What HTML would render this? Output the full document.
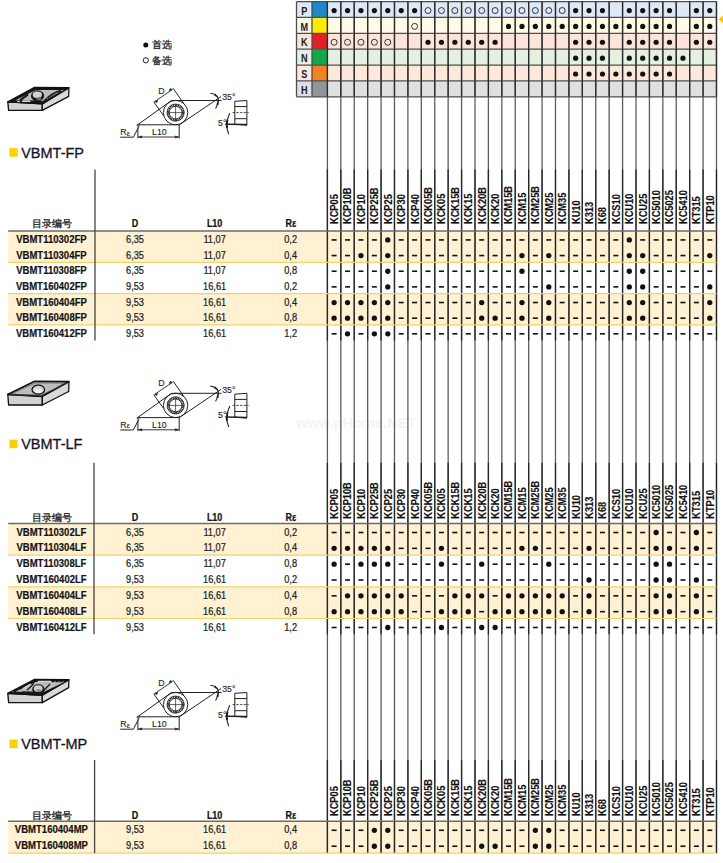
<!DOCTYPE html>
<html><head><meta charset="utf-8"><style>
html,body{margin:0;padding:0;background:#fff;width:723px;height:863px;overflow:hidden}
svg{position:absolute;left:0;top:0;font-family:"Liberation Sans", sans-serif}
.gl{font-weight:bold;font-size:10.6px;text-anchor:middle;fill:#1a1a1a}
.gline{stroke:#4e4e4e;stroke-width:1.3}
.vline{stroke-width:1.3}
.cjk{font-size:10px;fill:#1e1e1e;stroke:#1e1e1e;stroke-width:0.3px}
.hb{font-weight:bold;font-size:10.2px;fill:#141414;stroke:#141414;stroke-width:0.25px}
.rl{font-weight:bold;font-size:10.4px;fill:#111;stroke:#111;stroke-width:0.15px}
.pn{font-weight:bold;font-size:10.9px;fill:#141414;stroke:#141414;stroke-width:0.2px}
.num{font-size:10.5px;fill:#1e1e1e;stroke:#1e1e1e;stroke-width:0.25px}
.dt{font-size:8.8px;fill:#222;stroke:#222;stroke-width:0.1px}
.title{font-size:14.5px;fill:#15152a;stroke:#15152a;stroke-width:0.3px}
</style></head><body>
<svg width="723" height="863" viewBox="0 0 723 863">
<text x="296" y="427.8" font-size="14.6" font-weight="bold" fill="#eff5f9">www.pHome.NET</text>
<rect x="8.2" y="231" width="708.29" height="31.3" fill="#fff1d2"/>
<rect x="8.2" y="293.6" width="708.29" height="31.3" fill="#fff1d2"/>
<rect x="8.2" y="523.5" width="708.29" height="31.66" fill="#fff1d2"/>
<rect x="8.2" y="586.82" width="708.29" height="31.66" fill="#fff1d2"/>
<rect x="8.2" y="821.2" width="708.29" height="31.9" fill="#fff1d2"/>
<rect x="296.5" y="1.6" width="419.99" height="15.87" fill="#dde9f6"/>
<rect x="312" y="1.6" width="15.4" height="15.87" fill="#1b87cc"/>
<text transform="translate(304.25,14.63) scale(0.86,1)" class="gl">P</text>
<circle cx="334.11" cy="10.54" r="2.6" fill="#111"/>
<circle cx="347.53" cy="10.54" r="2.6" fill="#111"/>
<circle cx="360.94" cy="10.54" r="2.6" fill="#111"/>
<circle cx="374.36" cy="10.54" r="2.6" fill="#111"/>
<circle cx="387.78" cy="10.54" r="2.6" fill="#111"/>
<circle cx="401.19" cy="10.54" r="2.6" fill="#111"/>
<circle cx="414.61" cy="10.54" r="2.6" fill="#111"/>
<circle cx="428.03" cy="10.54" r="3.0" fill="none" stroke="#222" stroke-width="0.9"/>
<circle cx="441.44" cy="10.54" r="3.0" fill="none" stroke="#222" stroke-width="0.9"/>
<circle cx="454.86" cy="10.54" r="3.0" fill="none" stroke="#222" stroke-width="0.9"/>
<circle cx="468.28" cy="10.54" r="3.0" fill="none" stroke="#222" stroke-width="0.9"/>
<circle cx="481.7" cy="10.54" r="3.0" fill="none" stroke="#222" stroke-width="0.9"/>
<circle cx="495.11" cy="10.54" r="3.0" fill="none" stroke="#222" stroke-width="0.9"/>
<circle cx="508.53" cy="10.54" r="3.0" fill="none" stroke="#222" stroke-width="0.9"/>
<circle cx="521.95" cy="10.54" r="3.0" fill="none" stroke="#222" stroke-width="0.9"/>
<circle cx="535.36" cy="10.54" r="3.0" fill="none" stroke="#222" stroke-width="0.9"/>
<circle cx="548.78" cy="10.54" r="3.0" fill="none" stroke="#222" stroke-width="0.9"/>
<circle cx="562.2" cy="10.54" r="3.0" fill="none" stroke="#222" stroke-width="0.9"/>
<circle cx="575.61" cy="10.54" r="2.6" fill="#111"/>
<circle cx="589.03" cy="10.54" r="2.6" fill="#111"/>
<circle cx="602.45" cy="10.54" r="2.6" fill="#111"/>
<circle cx="629.28" cy="10.54" r="2.6" fill="#111"/>
<circle cx="642.7" cy="10.54" r="2.6" fill="#111"/>
<circle cx="656.12" cy="10.54" r="2.6" fill="#111"/>
<circle cx="669.53" cy="10.54" r="2.6" fill="#111"/>
<circle cx="696.37" cy="10.54" r="2.6" fill="#111"/>
<circle cx="709.78" cy="10.54" r="2.6" fill="#111"/>
<rect x="296.5" y="17.47" width="419.99" height="15.87" fill="#fefbe6"/>
<rect x="312" y="17.47" width="15.4" height="15.87" fill="#ffea00"/>
<text transform="translate(304.25,30.5) scale(0.86,1)" class="gl">M</text>
<circle cx="414.61" cy="26.4" r="3.0" fill="none" stroke="#222" stroke-width="0.9"/>
<circle cx="508.53" cy="26.4" r="2.6" fill="#111"/>
<circle cx="521.95" cy="26.4" r="2.6" fill="#111"/>
<circle cx="535.36" cy="26.4" r="2.6" fill="#111"/>
<circle cx="548.78" cy="26.4" r="2.6" fill="#111"/>
<circle cx="562.2" cy="26.4" r="2.6" fill="#111"/>
<circle cx="575.61" cy="26.4" r="2.6" fill="#111"/>
<circle cx="589.03" cy="26.4" r="2.6" fill="#111"/>
<circle cx="602.45" cy="26.4" r="2.6" fill="#111"/>
<circle cx="615.87" cy="26.4" r="2.6" fill="#111"/>
<circle cx="629.28" cy="26.4" r="2.6" fill="#111"/>
<circle cx="642.7" cy="26.4" r="2.6" fill="#111"/>
<circle cx="656.12" cy="26.4" r="2.6" fill="#111"/>
<circle cx="669.53" cy="26.4" r="2.6" fill="#111"/>
<circle cx="696.37" cy="26.4" r="2.6" fill="#111"/>
<circle cx="709.78" cy="26.4" r="2.6" fill="#111"/>
<rect x="296.5" y="33.34" width="419.99" height="15.87" fill="#fce4dc"/>
<rect x="312" y="33.34" width="15.4" height="15.87" fill="#e31e26"/>
<text transform="translate(304.25,46.38) scale(0.86,1)" class="gl">K</text>
<circle cx="334.11" cy="42.27" r="3.0" fill="none" stroke="#222" stroke-width="0.9"/>
<circle cx="347.53" cy="42.27" r="3.0" fill="none" stroke="#222" stroke-width="0.9"/>
<circle cx="360.94" cy="42.27" r="3.0" fill="none" stroke="#222" stroke-width="0.9"/>
<circle cx="374.36" cy="42.27" r="3.0" fill="none" stroke="#222" stroke-width="0.9"/>
<circle cx="387.78" cy="42.27" r="3.0" fill="none" stroke="#222" stroke-width="0.9"/>
<circle cx="428.03" cy="42.27" r="2.6" fill="#111"/>
<circle cx="441.44" cy="42.27" r="2.6" fill="#111"/>
<circle cx="454.86" cy="42.27" r="2.6" fill="#111"/>
<circle cx="468.28" cy="42.27" r="2.6" fill="#111"/>
<circle cx="481.7" cy="42.27" r="2.6" fill="#111"/>
<circle cx="495.11" cy="42.27" r="2.6" fill="#111"/>
<circle cx="575.61" cy="42.27" r="2.6" fill="#111"/>
<circle cx="589.03" cy="42.27" r="2.6" fill="#111"/>
<circle cx="602.45" cy="42.27" r="2.6" fill="#111"/>
<circle cx="629.28" cy="42.27" r="2.6" fill="#111"/>
<circle cx="642.7" cy="42.27" r="2.6" fill="#111"/>
<circle cx="656.12" cy="42.27" r="2.6" fill="#111"/>
<circle cx="669.53" cy="42.27" r="2.6" fill="#111"/>
<circle cx="696.37" cy="42.27" r="2.6" fill="#111"/>
<circle cx="709.78" cy="42.27" r="2.6" fill="#111"/>
<rect x="296.5" y="49.21" width="419.99" height="15.87" fill="#e4f0e0"/>
<rect x="312" y="49.21" width="15.4" height="15.87" fill="#13a64a"/>
<text transform="translate(304.25,62.25) scale(0.86,1)" class="gl">N</text>
<circle cx="575.61" cy="58.15" r="2.6" fill="#111"/>
<circle cx="589.03" cy="58.15" r="2.6" fill="#111"/>
<circle cx="602.45" cy="58.15" r="2.6" fill="#111"/>
<circle cx="629.28" cy="58.15" r="2.6" fill="#111"/>
<circle cx="642.7" cy="58.15" r="2.6" fill="#111"/>
<circle cx="656.12" cy="58.15" r="2.6" fill="#111"/>
<circle cx="669.53" cy="58.15" r="2.6" fill="#111"/>
<circle cx="682.95" cy="58.15" r="2.6" fill="#111"/>
<rect x="296.5" y="65.08" width="419.99" height="15.87" fill="#fde9dc"/>
<rect x="312" y="65.08" width="15.4" height="15.87" fill="#f28220"/>
<text transform="translate(304.25,78.11) scale(0.86,1)" class="gl">S</text>
<circle cx="575.61" cy="74.02" r="2.6" fill="#111"/>
<circle cx="589.03" cy="74.02" r="2.6" fill="#111"/>
<circle cx="602.45" cy="74.02" r="2.6" fill="#111"/>
<circle cx="615.87" cy="74.02" r="2.6" fill="#111"/>
<circle cx="629.28" cy="74.02" r="2.6" fill="#111"/>
<circle cx="642.7" cy="74.02" r="2.6" fill="#111"/>
<circle cx="656.12" cy="74.02" r="2.6" fill="#111"/>
<circle cx="669.53" cy="74.02" r="2.6" fill="#111"/>
<rect x="296.5" y="80.95" width="419.99" height="15.87" fill="#dfe0e2"/>
<rect x="312" y="80.95" width="15.4" height="15.87" fill="#929497"/>
<text transform="translate(304.25,93.98) scale(0.86,1)" class="gl">H</text>
<line x1="296.5" y1="1.6" x2="716.49" y2="1.6" class="gline"/>
<line x1="296.5" y1="17.47" x2="716.49" y2="17.47" class="gline"/>
<line x1="296.5" y1="33.34" x2="716.49" y2="33.34" class="gline"/>
<line x1="296.5" y1="49.21" x2="716.49" y2="49.21" class="gline"/>
<line x1="296.5" y1="65.08" x2="716.49" y2="65.08" class="gline"/>
<line x1="296.5" y1="80.95" x2="716.49" y2="80.95" class="gline"/>
<line x1="296.5" y1="96.82" x2="716.49" y2="96.82" class="gline"/>
<line x1="296.5" y1="1.6" x2="296.5" y2="96.82" class="gline"/>
<line x1="312" y1="1.6" x2="312" y2="96.82" class="gline"/>
<line x1="327.4" y1="1.6" x2="327.4" y2="853.3" class="vline" stroke="#5e5e5e"/>
<line x1="327.4" y1="1.6" x2="327.4" y2="96.82" stroke="#2a2a2a" stroke-width="1.3"/>
<line x1="327.4" y1="169.4" x2="327.4" y2="340.6" stroke="#262626" stroke-width="1.3"/>
<line x1="327.4" y1="462.8" x2="327.4" y2="634.3" stroke="#262626" stroke-width="1.3"/>
<line x1="327.4" y1="760" x2="327.4" y2="853.3" stroke="#262626" stroke-width="1.3"/>
<line x1="340.82" y1="1.6" x2="340.82" y2="853.3" class="vline" stroke="#5e5e5e"/>
<line x1="340.82" y1="1.6" x2="340.82" y2="96.82" stroke="#2a2a2a" stroke-width="1.3"/>
<line x1="340.82" y1="169.4" x2="340.82" y2="340.6" stroke="#262626" stroke-width="1.3"/>
<line x1="340.82" y1="462.8" x2="340.82" y2="634.3" stroke="#262626" stroke-width="1.3"/>
<line x1="340.82" y1="760" x2="340.82" y2="853.3" stroke="#262626" stroke-width="1.3"/>
<line x1="354.23" y1="1.6" x2="354.23" y2="853.3" class="vline" stroke="#5e5e5e"/>
<line x1="354.23" y1="1.6" x2="354.23" y2="96.82" stroke="#2a2a2a" stroke-width="1.3"/>
<line x1="354.23" y1="169.4" x2="354.23" y2="340.6" stroke="#262626" stroke-width="1.3"/>
<line x1="354.23" y1="462.8" x2="354.23" y2="634.3" stroke="#262626" stroke-width="1.3"/>
<line x1="354.23" y1="760" x2="354.23" y2="853.3" stroke="#262626" stroke-width="1.3"/>
<line x1="367.65" y1="1.6" x2="367.65" y2="853.3" class="vline" stroke="#5e5e5e"/>
<line x1="367.65" y1="1.6" x2="367.65" y2="96.82" stroke="#2a2a2a" stroke-width="1.3"/>
<line x1="367.65" y1="169.4" x2="367.65" y2="340.6" stroke="#262626" stroke-width="1.3"/>
<line x1="367.65" y1="462.8" x2="367.65" y2="634.3" stroke="#262626" stroke-width="1.3"/>
<line x1="367.65" y1="760" x2="367.65" y2="853.3" stroke="#262626" stroke-width="1.3"/>
<line x1="381.07" y1="1.6" x2="381.07" y2="853.3" class="vline" stroke="#5e5e5e"/>
<line x1="381.07" y1="1.6" x2="381.07" y2="96.82" stroke="#2a2a2a" stroke-width="1.3"/>
<line x1="381.07" y1="169.4" x2="381.07" y2="340.6" stroke="#262626" stroke-width="1.3"/>
<line x1="381.07" y1="462.8" x2="381.07" y2="634.3" stroke="#262626" stroke-width="1.3"/>
<line x1="381.07" y1="760" x2="381.07" y2="853.3" stroke="#262626" stroke-width="1.3"/>
<line x1="394.48" y1="1.6" x2="394.48" y2="853.3" class="vline" stroke="#5e5e5e"/>
<line x1="394.48" y1="1.6" x2="394.48" y2="96.82" stroke="#2a2a2a" stroke-width="1.3"/>
<line x1="394.48" y1="169.4" x2="394.48" y2="340.6" stroke="#262626" stroke-width="1.3"/>
<line x1="394.48" y1="462.8" x2="394.48" y2="634.3" stroke="#262626" stroke-width="1.3"/>
<line x1="394.48" y1="760" x2="394.48" y2="853.3" stroke="#262626" stroke-width="1.3"/>
<line x1="407.9" y1="1.6" x2="407.9" y2="853.3" class="vline" stroke="#5e5e5e"/>
<line x1="407.9" y1="1.6" x2="407.9" y2="96.82" stroke="#2a2a2a" stroke-width="1.3"/>
<line x1="407.9" y1="169.4" x2="407.9" y2="340.6" stroke="#262626" stroke-width="1.3"/>
<line x1="407.9" y1="462.8" x2="407.9" y2="634.3" stroke="#262626" stroke-width="1.3"/>
<line x1="407.9" y1="760" x2="407.9" y2="853.3" stroke="#262626" stroke-width="1.3"/>
<line x1="421.32" y1="1.6" x2="421.32" y2="853.3" class="vline" stroke="#5e5e5e"/>
<line x1="421.32" y1="1.6" x2="421.32" y2="96.82" stroke="#2a2a2a" stroke-width="1.3"/>
<line x1="421.32" y1="169.4" x2="421.32" y2="340.6" stroke="#262626" stroke-width="1.3"/>
<line x1="421.32" y1="462.8" x2="421.32" y2="634.3" stroke="#262626" stroke-width="1.3"/>
<line x1="421.32" y1="760" x2="421.32" y2="853.3" stroke="#262626" stroke-width="1.3"/>
<line x1="434.74" y1="1.6" x2="434.74" y2="853.3" class="vline" stroke="#5e5e5e"/>
<line x1="434.74" y1="1.6" x2="434.74" y2="96.82" stroke="#2a2a2a" stroke-width="1.3"/>
<line x1="434.74" y1="169.4" x2="434.74" y2="340.6" stroke="#262626" stroke-width="1.3"/>
<line x1="434.74" y1="462.8" x2="434.74" y2="634.3" stroke="#262626" stroke-width="1.3"/>
<line x1="434.74" y1="760" x2="434.74" y2="853.3" stroke="#262626" stroke-width="1.3"/>
<line x1="448.15" y1="1.6" x2="448.15" y2="853.3" class="vline" stroke="#5e5e5e"/>
<line x1="448.15" y1="1.6" x2="448.15" y2="96.82" stroke="#2a2a2a" stroke-width="1.3"/>
<line x1="448.15" y1="169.4" x2="448.15" y2="340.6" stroke="#262626" stroke-width="1.3"/>
<line x1="448.15" y1="462.8" x2="448.15" y2="634.3" stroke="#262626" stroke-width="1.3"/>
<line x1="448.15" y1="760" x2="448.15" y2="853.3" stroke="#262626" stroke-width="1.3"/>
<line x1="461.57" y1="1.6" x2="461.57" y2="853.3" class="vline" stroke="#5e5e5e"/>
<line x1="461.57" y1="1.6" x2="461.57" y2="96.82" stroke="#2a2a2a" stroke-width="1.3"/>
<line x1="461.57" y1="169.4" x2="461.57" y2="340.6" stroke="#262626" stroke-width="1.3"/>
<line x1="461.57" y1="462.8" x2="461.57" y2="634.3" stroke="#262626" stroke-width="1.3"/>
<line x1="461.57" y1="760" x2="461.57" y2="853.3" stroke="#262626" stroke-width="1.3"/>
<line x1="474.99" y1="1.6" x2="474.99" y2="853.3" class="vline" stroke="#5e5e5e"/>
<line x1="474.99" y1="1.6" x2="474.99" y2="96.82" stroke="#2a2a2a" stroke-width="1.3"/>
<line x1="474.99" y1="169.4" x2="474.99" y2="340.6" stroke="#262626" stroke-width="1.3"/>
<line x1="474.99" y1="462.8" x2="474.99" y2="634.3" stroke="#262626" stroke-width="1.3"/>
<line x1="474.99" y1="760" x2="474.99" y2="853.3" stroke="#262626" stroke-width="1.3"/>
<line x1="488.4" y1="1.6" x2="488.4" y2="853.3" class="vline" stroke="#5e5e5e"/>
<line x1="488.4" y1="1.6" x2="488.4" y2="96.82" stroke="#2a2a2a" stroke-width="1.3"/>
<line x1="488.4" y1="169.4" x2="488.4" y2="340.6" stroke="#262626" stroke-width="1.3"/>
<line x1="488.4" y1="462.8" x2="488.4" y2="634.3" stroke="#262626" stroke-width="1.3"/>
<line x1="488.4" y1="760" x2="488.4" y2="853.3" stroke="#262626" stroke-width="1.3"/>
<line x1="501.82" y1="1.6" x2="501.82" y2="853.3" class="vline" stroke="#5e5e5e"/>
<line x1="501.82" y1="1.6" x2="501.82" y2="96.82" stroke="#2a2a2a" stroke-width="1.3"/>
<line x1="501.82" y1="169.4" x2="501.82" y2="340.6" stroke="#262626" stroke-width="1.3"/>
<line x1="501.82" y1="462.8" x2="501.82" y2="634.3" stroke="#262626" stroke-width="1.3"/>
<line x1="501.82" y1="760" x2="501.82" y2="853.3" stroke="#262626" stroke-width="1.3"/>
<line x1="515.24" y1="1.6" x2="515.24" y2="853.3" class="vline" stroke="#5e5e5e"/>
<line x1="515.24" y1="1.6" x2="515.24" y2="96.82" stroke="#2a2a2a" stroke-width="1.3"/>
<line x1="515.24" y1="169.4" x2="515.24" y2="340.6" stroke="#262626" stroke-width="1.3"/>
<line x1="515.24" y1="462.8" x2="515.24" y2="634.3" stroke="#262626" stroke-width="1.3"/>
<line x1="515.24" y1="760" x2="515.24" y2="853.3" stroke="#262626" stroke-width="1.3"/>
<line x1="528.65" y1="1.6" x2="528.65" y2="853.3" class="vline" stroke="#5e5e5e"/>
<line x1="528.65" y1="1.6" x2="528.65" y2="96.82" stroke="#2a2a2a" stroke-width="1.3"/>
<line x1="528.65" y1="169.4" x2="528.65" y2="340.6" stroke="#262626" stroke-width="1.3"/>
<line x1="528.65" y1="462.8" x2="528.65" y2="634.3" stroke="#262626" stroke-width="1.3"/>
<line x1="528.65" y1="760" x2="528.65" y2="853.3" stroke="#262626" stroke-width="1.3"/>
<line x1="542.07" y1="1.6" x2="542.07" y2="853.3" class="vline" stroke="#5e5e5e"/>
<line x1="542.07" y1="1.6" x2="542.07" y2="96.82" stroke="#2a2a2a" stroke-width="1.3"/>
<line x1="542.07" y1="169.4" x2="542.07" y2="340.6" stroke="#262626" stroke-width="1.3"/>
<line x1="542.07" y1="462.8" x2="542.07" y2="634.3" stroke="#262626" stroke-width="1.3"/>
<line x1="542.07" y1="760" x2="542.07" y2="853.3" stroke="#262626" stroke-width="1.3"/>
<line x1="555.49" y1="1.6" x2="555.49" y2="853.3" class="vline" stroke="#5e5e5e"/>
<line x1="555.49" y1="1.6" x2="555.49" y2="96.82" stroke="#2a2a2a" stroke-width="1.3"/>
<line x1="555.49" y1="169.4" x2="555.49" y2="340.6" stroke="#262626" stroke-width="1.3"/>
<line x1="555.49" y1="462.8" x2="555.49" y2="634.3" stroke="#262626" stroke-width="1.3"/>
<line x1="555.49" y1="760" x2="555.49" y2="853.3" stroke="#262626" stroke-width="1.3"/>
<line x1="568.91" y1="1.6" x2="568.91" y2="853.3" class="vline" stroke="#5e5e5e"/>
<line x1="568.91" y1="1.6" x2="568.91" y2="96.82" stroke="#2a2a2a" stroke-width="1.3"/>
<line x1="568.91" y1="169.4" x2="568.91" y2="340.6" stroke="#262626" stroke-width="1.3"/>
<line x1="568.91" y1="462.8" x2="568.91" y2="634.3" stroke="#262626" stroke-width="1.3"/>
<line x1="568.91" y1="760" x2="568.91" y2="853.3" stroke="#262626" stroke-width="1.3"/>
<line x1="582.32" y1="1.6" x2="582.32" y2="853.3" class="vline" stroke="#5e5e5e"/>
<line x1="582.32" y1="1.6" x2="582.32" y2="96.82" stroke="#2a2a2a" stroke-width="1.3"/>
<line x1="582.32" y1="169.4" x2="582.32" y2="340.6" stroke="#262626" stroke-width="1.3"/>
<line x1="582.32" y1="462.8" x2="582.32" y2="634.3" stroke="#262626" stroke-width="1.3"/>
<line x1="582.32" y1="760" x2="582.32" y2="853.3" stroke="#262626" stroke-width="1.3"/>
<line x1="595.74" y1="1.6" x2="595.74" y2="853.3" class="vline" stroke="#5e5e5e"/>
<line x1="595.74" y1="1.6" x2="595.74" y2="96.82" stroke="#2a2a2a" stroke-width="1.3"/>
<line x1="595.74" y1="169.4" x2="595.74" y2="340.6" stroke="#262626" stroke-width="1.3"/>
<line x1="595.74" y1="462.8" x2="595.74" y2="634.3" stroke="#262626" stroke-width="1.3"/>
<line x1="595.74" y1="760" x2="595.74" y2="853.3" stroke="#262626" stroke-width="1.3"/>
<line x1="609.16" y1="1.6" x2="609.16" y2="853.3" class="vline" stroke="#5e5e5e"/>
<line x1="609.16" y1="1.6" x2="609.16" y2="96.82" stroke="#2a2a2a" stroke-width="1.3"/>
<line x1="609.16" y1="169.4" x2="609.16" y2="340.6" stroke="#262626" stroke-width="1.3"/>
<line x1="609.16" y1="462.8" x2="609.16" y2="634.3" stroke="#262626" stroke-width="1.3"/>
<line x1="609.16" y1="760" x2="609.16" y2="853.3" stroke="#262626" stroke-width="1.3"/>
<line x1="622.57" y1="1.6" x2="622.57" y2="853.3" class="vline" stroke="#5e5e5e"/>
<line x1="622.57" y1="1.6" x2="622.57" y2="96.82" stroke="#2a2a2a" stroke-width="1.3"/>
<line x1="622.57" y1="169.4" x2="622.57" y2="340.6" stroke="#262626" stroke-width="1.3"/>
<line x1="622.57" y1="462.8" x2="622.57" y2="634.3" stroke="#262626" stroke-width="1.3"/>
<line x1="622.57" y1="760" x2="622.57" y2="853.3" stroke="#262626" stroke-width="1.3"/>
<line x1="635.99" y1="1.6" x2="635.99" y2="853.3" class="vline" stroke="#5e5e5e"/>
<line x1="635.99" y1="1.6" x2="635.99" y2="96.82" stroke="#2a2a2a" stroke-width="1.3"/>
<line x1="635.99" y1="169.4" x2="635.99" y2="340.6" stroke="#262626" stroke-width="1.3"/>
<line x1="635.99" y1="462.8" x2="635.99" y2="634.3" stroke="#262626" stroke-width="1.3"/>
<line x1="635.99" y1="760" x2="635.99" y2="853.3" stroke="#262626" stroke-width="1.3"/>
<line x1="649.41" y1="1.6" x2="649.41" y2="853.3" class="vline" stroke="#5e5e5e"/>
<line x1="649.41" y1="1.6" x2="649.41" y2="96.82" stroke="#2a2a2a" stroke-width="1.3"/>
<line x1="649.41" y1="169.4" x2="649.41" y2="340.6" stroke="#262626" stroke-width="1.3"/>
<line x1="649.41" y1="462.8" x2="649.41" y2="634.3" stroke="#262626" stroke-width="1.3"/>
<line x1="649.41" y1="760" x2="649.41" y2="853.3" stroke="#262626" stroke-width="1.3"/>
<line x1="662.83" y1="1.6" x2="662.83" y2="853.3" class="vline" stroke="#5e5e5e"/>
<line x1="662.83" y1="1.6" x2="662.83" y2="96.82" stroke="#2a2a2a" stroke-width="1.3"/>
<line x1="662.83" y1="169.4" x2="662.83" y2="340.6" stroke="#262626" stroke-width="1.3"/>
<line x1="662.83" y1="462.8" x2="662.83" y2="634.3" stroke="#262626" stroke-width="1.3"/>
<line x1="662.83" y1="760" x2="662.83" y2="853.3" stroke="#262626" stroke-width="1.3"/>
<line x1="676.24" y1="1.6" x2="676.24" y2="853.3" class="vline" stroke="#5e5e5e"/>
<line x1="676.24" y1="1.6" x2="676.24" y2="96.82" stroke="#2a2a2a" stroke-width="1.3"/>
<line x1="676.24" y1="169.4" x2="676.24" y2="340.6" stroke="#262626" stroke-width="1.3"/>
<line x1="676.24" y1="462.8" x2="676.24" y2="634.3" stroke="#262626" stroke-width="1.3"/>
<line x1="676.24" y1="760" x2="676.24" y2="853.3" stroke="#262626" stroke-width="1.3"/>
<line x1="689.66" y1="1.6" x2="689.66" y2="853.3" class="vline" stroke="#5e5e5e"/>
<line x1="689.66" y1="1.6" x2="689.66" y2="96.82" stroke="#2a2a2a" stroke-width="1.3"/>
<line x1="689.66" y1="169.4" x2="689.66" y2="340.6" stroke="#262626" stroke-width="1.3"/>
<line x1="689.66" y1="462.8" x2="689.66" y2="634.3" stroke="#262626" stroke-width="1.3"/>
<line x1="689.66" y1="760" x2="689.66" y2="853.3" stroke="#262626" stroke-width="1.3"/>
<line x1="703.08" y1="1.6" x2="703.08" y2="853.3" class="vline" stroke="#5e5e5e"/>
<line x1="703.08" y1="1.6" x2="703.08" y2="96.82" stroke="#2a2a2a" stroke-width="1.3"/>
<line x1="703.08" y1="169.4" x2="703.08" y2="340.6" stroke="#262626" stroke-width="1.3"/>
<line x1="703.08" y1="462.8" x2="703.08" y2="634.3" stroke="#262626" stroke-width="1.3"/>
<line x1="703.08" y1="760" x2="703.08" y2="853.3" stroke="#262626" stroke-width="1.3"/>
<line x1="716.49" y1="1.6" x2="716.49" y2="853.3" class="vline" stroke="#5e5e5e"/>
<line x1="716.49" y1="1.6" x2="716.49" y2="96.82" stroke="#2a2a2a" stroke-width="1.3"/>
<line x1="716.49" y1="169.4" x2="716.49" y2="340.6" stroke="#262626" stroke-width="1.3"/>
<line x1="716.49" y1="462.8" x2="716.49" y2="634.3" stroke="#262626" stroke-width="1.3"/>
<line x1="716.49" y1="760" x2="716.49" y2="853.3" stroke="#262626" stroke-width="1.3"/>
<circle cx="145.8" cy="44.9" r="2.5" fill="#111"/>
<text x="152" y="47.9" class="cjk">首选</text>
<circle cx="145.8" cy="60.3" r="2.6" fill="none" stroke="#222" stroke-width="1"/>
<text x="152" y="63.5" class="cjk">备选</text>
<line x1="8.2" y1="262.3" x2="716.49" y2="262.3" stroke="#f2d465" stroke-width="1.2"/>
<line x1="8.2" y1="293.6" x2="716.49" y2="293.6" stroke="#f2d465" stroke-width="1.2"/>
<line x1="8.2" y1="324.9" x2="716.49" y2="324.9" stroke="#f2d465" stroke-width="1.2"/>
<line x1="8.2" y1="231" x2="716.49" y2="231" stroke="#6b6b6b" stroke-width="1.5"/>
<line x1="95" y1="169.4" x2="95" y2="340.55" stroke="#444" stroke-width="1.3"/>
<text x="51.5" y="227" class="cjk" text-anchor="middle">目录编号</text>
<text transform="translate(135,226.65) scale(0.88,1)" class="hb" text-anchor="middle">D</text>
<text transform="translate(214.6,226.65) scale(0.88,1)" class="hb" text-anchor="middle">L10</text>
<text transform="translate(290.8,226.65) scale(0.88,1)" class="hb" text-anchor="middle">Rε</text>
<text transform="translate(338.01,224) rotate(-90) scale(0.89,1)" class="rl">KCP05</text>
<text transform="translate(351.43,224) rotate(-90) scale(0.89,1)" class="rl">KCP10B</text>
<text transform="translate(364.84,224) rotate(-90) scale(0.89,1)" class="rl">KCP10</text>
<text transform="translate(378.26,224) rotate(-90) scale(0.89,1)" class="rl">KCP25B</text>
<text transform="translate(391.68,224) rotate(-90) scale(0.89,1)" class="rl">KCP25</text>
<text transform="translate(405.09,224) rotate(-90) scale(0.89,1)" class="rl">KCP30</text>
<text transform="translate(418.51,224) rotate(-90) scale(0.89,1)" class="rl">KCP40</text>
<text transform="translate(431.93,224) rotate(-90) scale(0.89,1)" class="rl">KCK05B</text>
<text transform="translate(445.34,224) rotate(-90) scale(0.89,1)" class="rl">KCK05</text>
<text transform="translate(458.76,224) rotate(-90) scale(0.89,1)" class="rl">KCK15B</text>
<text transform="translate(472.18,224) rotate(-90) scale(0.89,1)" class="rl">KCK15</text>
<text transform="translate(485.6,224) rotate(-90) scale(0.89,1)" class="rl">KCK20B</text>
<text transform="translate(499.01,224) rotate(-90) scale(0.89,1)" class="rl">KCK20</text>
<text transform="translate(512.43,224) rotate(-90) scale(0.89,1)" class="rl">KCM15B</text>
<text transform="translate(525.85,224) rotate(-90) scale(0.89,1)" class="rl">KCM15</text>
<text transform="translate(539.26,224) rotate(-90) scale(0.89,1)" class="rl">KCM25B</text>
<text transform="translate(552.68,224) rotate(-90) scale(0.89,1)" class="rl">KCM25</text>
<text transform="translate(566.1,224) rotate(-90) scale(0.89,1)" class="rl">KCM35</text>
<text transform="translate(579.51,224) rotate(-90) scale(0.89,1)" class="rl">KU10</text>
<text transform="translate(592.93,224) rotate(-90) scale(0.89,1)" class="rl">K313</text>
<text transform="translate(606.35,224) rotate(-90) scale(0.89,1)" class="rl">K68</text>
<text transform="translate(619.77,224) rotate(-90) scale(0.89,1)" class="rl">KCS10</text>
<text transform="translate(633.18,224) rotate(-90) scale(0.89,1)" class="rl">KCU10</text>
<text transform="translate(646.6,224) rotate(-90) scale(0.89,1)" class="rl">KCU25</text>
<text transform="translate(660.02,224) rotate(-90) scale(0.89,1)" class="rl">KC5010</text>
<text transform="translate(673.43,224) rotate(-90) scale(0.89,1)" class="rl">KC5025</text>
<text transform="translate(686.85,224) rotate(-90) scale(0.89,1)" class="rl">KC5410</text>
<text transform="translate(700.27,224) rotate(-90) scale(0.89,1)" class="rl">KT315</text>
<text transform="translate(713.68,224) rotate(-90) scale(0.89,1)" class="rl">KTP10</text>
<text transform="translate(51.4,242.92) scale(0.875,1)" class="pn" text-anchor="middle">VBMT110302FP</text>
<text transform="translate(135,242.92) scale(0.88,1)" class="num" text-anchor="middle">6,35</text>
<text transform="translate(214.6,242.92) scale(0.88,1)" class="num" text-anchor="middle">11,07</text>
<text transform="translate(290.6,242.92) scale(0.88,1)" class="num" text-anchor="middle">0,2</text>
<rect x="331.61" y="239.12" width="5" height="1.6" fill="#111"/>
<rect x="345.03" y="239.12" width="5" height="1.6" fill="#111"/>
<rect x="358.44" y="239.12" width="5" height="1.6" fill="#111"/>
<rect x="371.86" y="239.12" width="5" height="1.6" fill="#111"/>
<circle cx="387.78" cy="239.92" r="2.65" fill="#111"/>
<rect x="398.69" y="239.12" width="5" height="1.6" fill="#111"/>
<rect x="412.11" y="239.12" width="5" height="1.6" fill="#111"/>
<rect x="425.53" y="239.12" width="5" height="1.6" fill="#111"/>
<rect x="438.94" y="239.12" width="5" height="1.6" fill="#111"/>
<rect x="452.36" y="239.12" width="5" height="1.6" fill="#111"/>
<rect x="465.78" y="239.12" width="5" height="1.6" fill="#111"/>
<rect x="479.2" y="239.12" width="5" height="1.6" fill="#111"/>
<rect x="492.61" y="239.12" width="5" height="1.6" fill="#111"/>
<rect x="506.03" y="239.12" width="5" height="1.6" fill="#111"/>
<rect x="519.45" y="239.12" width="5" height="1.6" fill="#111"/>
<rect x="532.86" y="239.12" width="5" height="1.6" fill="#111"/>
<rect x="546.28" y="239.12" width="5" height="1.6" fill="#111"/>
<rect x="559.7" y="239.12" width="5" height="1.6" fill="#111"/>
<rect x="573.11" y="239.12" width="5" height="1.6" fill="#111"/>
<rect x="586.53" y="239.12" width="5" height="1.6" fill="#111"/>
<rect x="599.95" y="239.12" width="5" height="1.6" fill="#111"/>
<rect x="613.37" y="239.12" width="5" height="1.6" fill="#111"/>
<circle cx="629.28" cy="239.92" r="2.65" fill="#111"/>
<rect x="640.2" y="239.12" width="5" height="1.6" fill="#111"/>
<rect x="653.62" y="239.12" width="5" height="1.6" fill="#111"/>
<rect x="667.03" y="239.12" width="5" height="1.6" fill="#111"/>
<rect x="680.45" y="239.12" width="5" height="1.6" fill="#111"/>
<rect x="693.87" y="239.12" width="5" height="1.6" fill="#111"/>
<rect x="707.28" y="239.12" width="5" height="1.6" fill="#111"/>
<text transform="translate(51.4,258.57) scale(0.875,1)" class="pn" text-anchor="middle">VBMT110304FP</text>
<text transform="translate(135,258.57) scale(0.88,1)" class="num" text-anchor="middle">6,35</text>
<text transform="translate(214.6,258.57) scale(0.88,1)" class="num" text-anchor="middle">11,07</text>
<text transform="translate(290.6,258.57) scale(0.88,1)" class="num" text-anchor="middle">0,4</text>
<rect x="331.61" y="254.77" width="5" height="1.6" fill="#111"/>
<rect x="345.03" y="254.77" width="5" height="1.6" fill="#111"/>
<circle cx="360.94" cy="255.57" r="2.65" fill="#111"/>
<rect x="371.86" y="254.77" width="5" height="1.6" fill="#111"/>
<circle cx="387.78" cy="255.57" r="2.65" fill="#111"/>
<rect x="398.69" y="254.77" width="5" height="1.6" fill="#111"/>
<rect x="412.11" y="254.77" width="5" height="1.6" fill="#111"/>
<rect x="425.53" y="254.77" width="5" height="1.6" fill="#111"/>
<rect x="438.94" y="254.77" width="5" height="1.6" fill="#111"/>
<rect x="452.36" y="254.77" width="5" height="1.6" fill="#111"/>
<rect x="465.78" y="254.77" width="5" height="1.6" fill="#111"/>
<rect x="479.2" y="254.77" width="5" height="1.6" fill="#111"/>
<rect x="492.61" y="254.77" width="5" height="1.6" fill="#111"/>
<rect x="506.03" y="254.77" width="5" height="1.6" fill="#111"/>
<circle cx="521.95" cy="255.57" r="2.65" fill="#111"/>
<rect x="532.86" y="254.77" width="5" height="1.6" fill="#111"/>
<circle cx="548.78" cy="255.57" r="2.65" fill="#111"/>
<rect x="559.7" y="254.77" width="5" height="1.6" fill="#111"/>
<rect x="573.11" y="254.77" width="5" height="1.6" fill="#111"/>
<rect x="586.53" y="254.77" width="5" height="1.6" fill="#111"/>
<rect x="599.95" y="254.77" width="5" height="1.6" fill="#111"/>
<rect x="613.37" y="254.77" width="5" height="1.6" fill="#111"/>
<circle cx="629.28" cy="255.57" r="2.65" fill="#111"/>
<circle cx="642.7" cy="255.57" r="2.65" fill="#111"/>
<rect x="653.62" y="254.77" width="5" height="1.6" fill="#111"/>
<rect x="667.03" y="254.77" width="5" height="1.6" fill="#111"/>
<rect x="680.45" y="254.77" width="5" height="1.6" fill="#111"/>
<rect x="693.87" y="254.77" width="5" height="1.6" fill="#111"/>
<circle cx="709.78" cy="255.57" r="2.65" fill="#111"/>
<text transform="translate(51.4,274.23) scale(0.875,1)" class="pn" text-anchor="middle">VBMT110308FP</text>
<text transform="translate(135,274.23) scale(0.88,1)" class="num" text-anchor="middle">6,35</text>
<text transform="translate(214.6,274.23) scale(0.88,1)" class="num" text-anchor="middle">11,07</text>
<text transform="translate(290.6,274.23) scale(0.88,1)" class="num" text-anchor="middle">0,8</text>
<rect x="331.61" y="270.43" width="5" height="1.6" fill="#111"/>
<rect x="345.03" y="270.43" width="5" height="1.6" fill="#111"/>
<rect x="358.44" y="270.43" width="5" height="1.6" fill="#111"/>
<rect x="371.86" y="270.43" width="5" height="1.6" fill="#111"/>
<circle cx="387.78" cy="271.23" r="2.65" fill="#111"/>
<rect x="398.69" y="270.43" width="5" height="1.6" fill="#111"/>
<rect x="412.11" y="270.43" width="5" height="1.6" fill="#111"/>
<rect x="425.53" y="270.43" width="5" height="1.6" fill="#111"/>
<rect x="438.94" y="270.43" width="5" height="1.6" fill="#111"/>
<rect x="452.36" y="270.43" width="5" height="1.6" fill="#111"/>
<rect x="465.78" y="270.43" width="5" height="1.6" fill="#111"/>
<rect x="479.2" y="270.43" width="5" height="1.6" fill="#111"/>
<rect x="492.61" y="270.43" width="5" height="1.6" fill="#111"/>
<rect x="506.03" y="270.43" width="5" height="1.6" fill="#111"/>
<circle cx="521.95" cy="271.23" r="2.65" fill="#111"/>
<rect x="532.86" y="270.43" width="5" height="1.6" fill="#111"/>
<rect x="546.28" y="270.43" width="5" height="1.6" fill="#111"/>
<rect x="559.7" y="270.43" width="5" height="1.6" fill="#111"/>
<rect x="573.11" y="270.43" width="5" height="1.6" fill="#111"/>
<rect x="586.53" y="270.43" width="5" height="1.6" fill="#111"/>
<rect x="599.95" y="270.43" width="5" height="1.6" fill="#111"/>
<rect x="613.37" y="270.43" width="5" height="1.6" fill="#111"/>
<circle cx="629.28" cy="271.23" r="2.65" fill="#111"/>
<circle cx="642.7" cy="271.23" r="2.65" fill="#111"/>
<rect x="653.62" y="270.43" width="5" height="1.6" fill="#111"/>
<rect x="667.03" y="270.43" width="5" height="1.6" fill="#111"/>
<rect x="680.45" y="270.43" width="5" height="1.6" fill="#111"/>
<rect x="693.87" y="270.43" width="5" height="1.6" fill="#111"/>
<rect x="707.28" y="270.43" width="5" height="1.6" fill="#111"/>
<text transform="translate(51.4,289.88) scale(0.875,1)" class="pn" text-anchor="middle">VBMT160402FP</text>
<text transform="translate(135,289.88) scale(0.88,1)" class="num" text-anchor="middle">9,53</text>
<text transform="translate(214.6,289.88) scale(0.88,1)" class="num" text-anchor="middle">16,61</text>
<text transform="translate(290.6,289.88) scale(0.88,1)" class="num" text-anchor="middle">0,2</text>
<rect x="331.61" y="286.07" width="5" height="1.6" fill="#111"/>
<rect x="345.03" y="286.07" width="5" height="1.6" fill="#111"/>
<rect x="358.44" y="286.07" width="5" height="1.6" fill="#111"/>
<rect x="371.86" y="286.07" width="5" height="1.6" fill="#111"/>
<circle cx="387.78" cy="286.88" r="2.65" fill="#111"/>
<rect x="398.69" y="286.07" width="5" height="1.6" fill="#111"/>
<rect x="412.11" y="286.07" width="5" height="1.6" fill="#111"/>
<rect x="425.53" y="286.07" width="5" height="1.6" fill="#111"/>
<rect x="438.94" y="286.07" width="5" height="1.6" fill="#111"/>
<rect x="452.36" y="286.07" width="5" height="1.6" fill="#111"/>
<rect x="465.78" y="286.07" width="5" height="1.6" fill="#111"/>
<rect x="479.2" y="286.07" width="5" height="1.6" fill="#111"/>
<rect x="492.61" y="286.07" width="5" height="1.6" fill="#111"/>
<rect x="506.03" y="286.07" width="5" height="1.6" fill="#111"/>
<rect x="519.45" y="286.07" width="5" height="1.6" fill="#111"/>
<rect x="532.86" y="286.07" width="5" height="1.6" fill="#111"/>
<circle cx="548.78" cy="286.88" r="2.65" fill="#111"/>
<rect x="559.7" y="286.07" width="5" height="1.6" fill="#111"/>
<rect x="573.11" y="286.07" width="5" height="1.6" fill="#111"/>
<rect x="586.53" y="286.07" width="5" height="1.6" fill="#111"/>
<rect x="599.95" y="286.07" width="5" height="1.6" fill="#111"/>
<rect x="613.37" y="286.07" width="5" height="1.6" fill="#111"/>
<circle cx="629.28" cy="286.88" r="2.65" fill="#111"/>
<circle cx="642.7" cy="286.88" r="2.65" fill="#111"/>
<rect x="653.62" y="286.07" width="5" height="1.6" fill="#111"/>
<rect x="667.03" y="286.07" width="5" height="1.6" fill="#111"/>
<rect x="680.45" y="286.07" width="5" height="1.6" fill="#111"/>
<rect x="693.87" y="286.07" width="5" height="1.6" fill="#111"/>
<circle cx="709.78" cy="286.88" r="2.65" fill="#111"/>
<text transform="translate(51.4,305.53) scale(0.875,1)" class="pn" text-anchor="middle">VBMT160404FP</text>
<text transform="translate(135,305.53) scale(0.88,1)" class="num" text-anchor="middle">9,53</text>
<text transform="translate(214.6,305.53) scale(0.88,1)" class="num" text-anchor="middle">16,61</text>
<text transform="translate(290.6,305.53) scale(0.88,1)" class="num" text-anchor="middle">0,4</text>
<circle cx="334.11" cy="302.53" r="2.65" fill="#111"/>
<circle cx="347.53" cy="302.53" r="2.65" fill="#111"/>
<circle cx="360.94" cy="302.53" r="2.65" fill="#111"/>
<circle cx="374.36" cy="302.53" r="2.65" fill="#111"/>
<circle cx="387.78" cy="302.53" r="2.65" fill="#111"/>
<rect x="398.69" y="301.73" width="5" height="1.6" fill="#111"/>
<rect x="412.11" y="301.73" width="5" height="1.6" fill="#111"/>
<rect x="425.53" y="301.73" width="5" height="1.6" fill="#111"/>
<rect x="438.94" y="301.73" width="5" height="1.6" fill="#111"/>
<rect x="452.36" y="301.73" width="5" height="1.6" fill="#111"/>
<rect x="465.78" y="301.73" width="5" height="1.6" fill="#111"/>
<circle cx="481.7" cy="302.53" r="2.65" fill="#111"/>
<rect x="492.61" y="301.73" width="5" height="1.6" fill="#111"/>
<rect x="506.03" y="301.73" width="5" height="1.6" fill="#111"/>
<circle cx="521.95" cy="302.53" r="2.65" fill="#111"/>
<rect x="532.86" y="301.73" width="5" height="1.6" fill="#111"/>
<circle cx="548.78" cy="302.53" r="2.65" fill="#111"/>
<rect x="559.7" y="301.73" width="5" height="1.6" fill="#111"/>
<rect x="573.11" y="301.73" width="5" height="1.6" fill="#111"/>
<rect x="586.53" y="301.73" width="5" height="1.6" fill="#111"/>
<rect x="599.95" y="301.73" width="5" height="1.6" fill="#111"/>
<rect x="613.37" y="301.73" width="5" height="1.6" fill="#111"/>
<circle cx="629.28" cy="302.53" r="2.65" fill="#111"/>
<circle cx="642.7" cy="302.53" r="2.65" fill="#111"/>
<rect x="653.62" y="301.73" width="5" height="1.6" fill="#111"/>
<rect x="667.03" y="301.73" width="5" height="1.6" fill="#111"/>
<rect x="680.45" y="301.73" width="5" height="1.6" fill="#111"/>
<rect x="693.87" y="301.73" width="5" height="1.6" fill="#111"/>
<circle cx="709.78" cy="302.53" r="2.65" fill="#111"/>
<text transform="translate(51.4,321.18) scale(0.875,1)" class="pn" text-anchor="middle">VBMT160408FP</text>
<text transform="translate(135,321.18) scale(0.88,1)" class="num" text-anchor="middle">9,53</text>
<text transform="translate(214.6,321.18) scale(0.88,1)" class="num" text-anchor="middle">16,61</text>
<text transform="translate(290.6,321.18) scale(0.88,1)" class="num" text-anchor="middle">0,8</text>
<circle cx="334.11" cy="318.18" r="2.65" fill="#111"/>
<circle cx="347.53" cy="318.18" r="2.65" fill="#111"/>
<circle cx="360.94" cy="318.18" r="2.65" fill="#111"/>
<circle cx="374.36" cy="318.18" r="2.65" fill="#111"/>
<circle cx="387.78" cy="318.18" r="2.65" fill="#111"/>
<rect x="398.69" y="317.38" width="5" height="1.6" fill="#111"/>
<rect x="412.11" y="317.38" width="5" height="1.6" fill="#111"/>
<rect x="425.53" y="317.38" width="5" height="1.6" fill="#111"/>
<rect x="438.94" y="317.38" width="5" height="1.6" fill="#111"/>
<rect x="452.36" y="317.38" width="5" height="1.6" fill="#111"/>
<rect x="465.78" y="317.38" width="5" height="1.6" fill="#111"/>
<circle cx="481.7" cy="318.18" r="2.65" fill="#111"/>
<circle cx="495.11" cy="318.18" r="2.65" fill="#111"/>
<rect x="506.03" y="317.38" width="5" height="1.6" fill="#111"/>
<circle cx="521.95" cy="318.18" r="2.65" fill="#111"/>
<rect x="532.86" y="317.38" width="5" height="1.6" fill="#111"/>
<circle cx="548.78" cy="318.18" r="2.65" fill="#111"/>
<rect x="559.7" y="317.38" width="5" height="1.6" fill="#111"/>
<rect x="573.11" y="317.38" width="5" height="1.6" fill="#111"/>
<rect x="586.53" y="317.38" width="5" height="1.6" fill="#111"/>
<rect x="599.95" y="317.38" width="5" height="1.6" fill="#111"/>
<rect x="613.37" y="317.38" width="5" height="1.6" fill="#111"/>
<circle cx="629.28" cy="318.18" r="2.65" fill="#111"/>
<circle cx="642.7" cy="318.18" r="2.65" fill="#111"/>
<rect x="653.62" y="317.38" width="5" height="1.6" fill="#111"/>
<rect x="667.03" y="317.38" width="5" height="1.6" fill="#111"/>
<rect x="680.45" y="317.38" width="5" height="1.6" fill="#111"/>
<rect x="693.87" y="317.38" width="5" height="1.6" fill="#111"/>
<circle cx="709.78" cy="318.18" r="2.65" fill="#111"/>
<text transform="translate(51.4,336.82) scale(0.875,1)" class="pn" text-anchor="middle">VBMT160412FP</text>
<text transform="translate(135,336.82) scale(0.88,1)" class="num" text-anchor="middle">9,53</text>
<text transform="translate(214.6,336.82) scale(0.88,1)" class="num" text-anchor="middle">16,61</text>
<text transform="translate(290.6,336.82) scale(0.88,1)" class="num" text-anchor="middle">1,2</text>
<rect x="331.61" y="333.02" width="5" height="1.6" fill="#111"/>
<circle cx="347.53" cy="333.82" r="2.65" fill="#111"/>
<rect x="358.44" y="333.02" width="5" height="1.6" fill="#111"/>
<circle cx="374.36" cy="333.82" r="2.65" fill="#111"/>
<circle cx="387.78" cy="333.82" r="2.65" fill="#111"/>
<rect x="398.69" y="333.02" width="5" height="1.6" fill="#111"/>
<rect x="412.11" y="333.02" width="5" height="1.6" fill="#111"/>
<rect x="425.53" y="333.02" width="5" height="1.6" fill="#111"/>
<rect x="438.94" y="333.02" width="5" height="1.6" fill="#111"/>
<rect x="452.36" y="333.02" width="5" height="1.6" fill="#111"/>
<rect x="465.78" y="333.02" width="5" height="1.6" fill="#111"/>
<rect x="479.2" y="333.02" width="5" height="1.6" fill="#111"/>
<rect x="492.61" y="333.02" width="5" height="1.6" fill="#111"/>
<rect x="506.03" y="333.02" width="5" height="1.6" fill="#111"/>
<rect x="519.45" y="333.02" width="5" height="1.6" fill="#111"/>
<rect x="532.86" y="333.02" width="5" height="1.6" fill="#111"/>
<rect x="546.28" y="333.02" width="5" height="1.6" fill="#111"/>
<rect x="559.7" y="333.02" width="5" height="1.6" fill="#111"/>
<rect x="573.11" y="333.02" width="5" height="1.6" fill="#111"/>
<rect x="586.53" y="333.02" width="5" height="1.6" fill="#111"/>
<rect x="599.95" y="333.02" width="5" height="1.6" fill="#111"/>
<rect x="613.37" y="333.02" width="5" height="1.6" fill="#111"/>
<rect x="626.78" y="333.02" width="5" height="1.6" fill="#111"/>
<rect x="640.2" y="333.02" width="5" height="1.6" fill="#111"/>
<rect x="653.62" y="333.02" width="5" height="1.6" fill="#111"/>
<rect x="667.03" y="333.02" width="5" height="1.6" fill="#111"/>
<rect x="680.45" y="333.02" width="5" height="1.6" fill="#111"/>
<rect x="693.87" y="333.02" width="5" height="1.6" fill="#111"/>
<rect x="707.28" y="333.02" width="5" height="1.6" fill="#111"/>
<line x1="8.2" y1="555.16" x2="716.49" y2="555.16" stroke="#f2d465" stroke-width="1.2"/>
<line x1="8.2" y1="586.82" x2="716.49" y2="586.82" stroke="#f2d465" stroke-width="1.2"/>
<line x1="8.2" y1="618.48" x2="716.49" y2="618.48" stroke="#f2d465" stroke-width="1.2"/>
<line x1="8.2" y1="523.5" x2="716.49" y2="523.5" stroke="#6b6b6b" stroke-width="1.5"/>
<line x1="94" y1="462.8" x2="94" y2="634.31" stroke="#444" stroke-width="1.3"/>
<text x="51.5" y="520.9" class="cjk" text-anchor="middle">目录编号</text>
<text transform="translate(135,520.8) scale(0.88,1)" class="hb" text-anchor="middle">D</text>
<text transform="translate(214.6,520.8) scale(0.88,1)" class="hb" text-anchor="middle">L10</text>
<text transform="translate(290.8,520.8) scale(0.88,1)" class="hb" text-anchor="middle">Rε</text>
<text transform="translate(338.01,518.7) rotate(-90) scale(0.89,1)" class="rl">KCP05</text>
<text transform="translate(351.43,518.7) rotate(-90) scale(0.89,1)" class="rl">KCP10B</text>
<text transform="translate(364.84,518.7) rotate(-90) scale(0.89,1)" class="rl">KCP10</text>
<text transform="translate(378.26,518.7) rotate(-90) scale(0.89,1)" class="rl">KCP25B</text>
<text transform="translate(391.68,518.7) rotate(-90) scale(0.89,1)" class="rl">KCP25</text>
<text transform="translate(405.09,518.7) rotate(-90) scale(0.89,1)" class="rl">KCP30</text>
<text transform="translate(418.51,518.7) rotate(-90) scale(0.89,1)" class="rl">KCP40</text>
<text transform="translate(431.93,518.7) rotate(-90) scale(0.89,1)" class="rl">KCK05B</text>
<text transform="translate(445.34,518.7) rotate(-90) scale(0.89,1)" class="rl">KCK05</text>
<text transform="translate(458.76,518.7) rotate(-90) scale(0.89,1)" class="rl">KCK15B</text>
<text transform="translate(472.18,518.7) rotate(-90) scale(0.89,1)" class="rl">KCK15</text>
<text transform="translate(485.6,518.7) rotate(-90) scale(0.89,1)" class="rl">KCK20B</text>
<text transform="translate(499.01,518.7) rotate(-90) scale(0.89,1)" class="rl">KCK20</text>
<text transform="translate(512.43,518.7) rotate(-90) scale(0.89,1)" class="rl">KCM15B</text>
<text transform="translate(525.85,518.7) rotate(-90) scale(0.89,1)" class="rl">KCM15</text>
<text transform="translate(539.26,518.7) rotate(-90) scale(0.89,1)" class="rl">KCM25B</text>
<text transform="translate(552.68,518.7) rotate(-90) scale(0.89,1)" class="rl">KCM25</text>
<text transform="translate(566.1,518.7) rotate(-90) scale(0.89,1)" class="rl">KCM35</text>
<text transform="translate(579.51,518.7) rotate(-90) scale(0.89,1)" class="rl">KU10</text>
<text transform="translate(592.93,518.7) rotate(-90) scale(0.89,1)" class="rl">K313</text>
<text transform="translate(606.35,518.7) rotate(-90) scale(0.89,1)" class="rl">K68</text>
<text transform="translate(619.77,518.7) rotate(-90) scale(0.89,1)" class="rl">KCS10</text>
<text transform="translate(633.18,518.7) rotate(-90) scale(0.89,1)" class="rl">KCU10</text>
<text transform="translate(646.6,518.7) rotate(-90) scale(0.89,1)" class="rl">KCU25</text>
<text transform="translate(660.02,518.7) rotate(-90) scale(0.89,1)" class="rl">KC5010</text>
<text transform="translate(673.43,518.7) rotate(-90) scale(0.89,1)" class="rl">KC5025</text>
<text transform="translate(686.85,518.7) rotate(-90) scale(0.89,1)" class="rl">KC5410</text>
<text transform="translate(700.27,518.7) rotate(-90) scale(0.89,1)" class="rl">KT315</text>
<text transform="translate(713.68,518.7) rotate(-90) scale(0.89,1)" class="rl">KTP10</text>
<text transform="translate(51.4,535.51) scale(0.875,1)" class="pn" text-anchor="middle">VBMT110302LF</text>
<text transform="translate(135,535.51) scale(0.88,1)" class="num" text-anchor="middle">6,35</text>
<text transform="translate(214.6,535.51) scale(0.88,1)" class="num" text-anchor="middle">11,07</text>
<text transform="translate(290.6,535.51) scale(0.88,1)" class="num" text-anchor="middle">0,2</text>
<rect x="331.61" y="531.72" width="5" height="1.6" fill="#111"/>
<rect x="345.03" y="531.72" width="5" height="1.6" fill="#111"/>
<rect x="358.44" y="531.72" width="5" height="1.6" fill="#111"/>
<rect x="371.86" y="531.72" width="5" height="1.6" fill="#111"/>
<rect x="385.28" y="531.72" width="5" height="1.6" fill="#111"/>
<rect x="398.69" y="531.72" width="5" height="1.6" fill="#111"/>
<rect x="412.11" y="531.72" width="5" height="1.6" fill="#111"/>
<rect x="425.53" y="531.72" width="5" height="1.6" fill="#111"/>
<rect x="438.94" y="531.72" width="5" height="1.6" fill="#111"/>
<rect x="452.36" y="531.72" width="5" height="1.6" fill="#111"/>
<rect x="465.78" y="531.72" width="5" height="1.6" fill="#111"/>
<rect x="479.2" y="531.72" width="5" height="1.6" fill="#111"/>
<rect x="492.61" y="531.72" width="5" height="1.6" fill="#111"/>
<rect x="506.03" y="531.72" width="5" height="1.6" fill="#111"/>
<rect x="519.45" y="531.72" width="5" height="1.6" fill="#111"/>
<rect x="532.86" y="531.72" width="5" height="1.6" fill="#111"/>
<rect x="546.28" y="531.72" width="5" height="1.6" fill="#111"/>
<rect x="559.7" y="531.72" width="5" height="1.6" fill="#111"/>
<rect x="573.11" y="531.72" width="5" height="1.6" fill="#111"/>
<rect x="586.53" y="531.72" width="5" height="1.6" fill="#111"/>
<rect x="599.95" y="531.72" width="5" height="1.6" fill="#111"/>
<rect x="613.37" y="531.72" width="5" height="1.6" fill="#111"/>
<rect x="626.78" y="531.72" width="5" height="1.6" fill="#111"/>
<rect x="640.2" y="531.72" width="5" height="1.6" fill="#111"/>
<circle cx="656.12" cy="532.51" r="2.65" fill="#111"/>
<rect x="667.03" y="531.72" width="5" height="1.6" fill="#111"/>
<rect x="680.45" y="531.72" width="5" height="1.6" fill="#111"/>
<circle cx="696.37" cy="532.51" r="2.65" fill="#111"/>
<rect x="707.28" y="531.72" width="5" height="1.6" fill="#111"/>
<text transform="translate(51.4,551.35) scale(0.875,1)" class="pn" text-anchor="middle">VBMT110304LF</text>
<text transform="translate(135,551.35) scale(0.88,1)" class="num" text-anchor="middle">6,35</text>
<text transform="translate(214.6,551.35) scale(0.88,1)" class="num" text-anchor="middle">11,07</text>
<text transform="translate(290.6,551.35) scale(0.88,1)" class="num" text-anchor="middle">0,4</text>
<circle cx="334.11" cy="548.35" r="2.65" fill="#111"/>
<circle cx="347.53" cy="548.35" r="2.65" fill="#111"/>
<circle cx="360.94" cy="548.35" r="2.65" fill="#111"/>
<circle cx="374.36" cy="548.35" r="2.65" fill="#111"/>
<circle cx="387.78" cy="548.35" r="2.65" fill="#111"/>
<rect x="398.69" y="547.55" width="5" height="1.6" fill="#111"/>
<rect x="412.11" y="547.55" width="5" height="1.6" fill="#111"/>
<rect x="425.53" y="547.55" width="5" height="1.6" fill="#111"/>
<circle cx="441.44" cy="548.35" r="2.65" fill="#111"/>
<rect x="452.36" y="547.55" width="5" height="1.6" fill="#111"/>
<rect x="465.78" y="547.55" width="5" height="1.6" fill="#111"/>
<rect x="479.2" y="547.55" width="5" height="1.6" fill="#111"/>
<rect x="492.61" y="547.55" width="5" height="1.6" fill="#111"/>
<rect x="506.03" y="547.55" width="5" height="1.6" fill="#111"/>
<circle cx="521.95" cy="548.35" r="2.65" fill="#111"/>
<circle cx="535.36" cy="548.35" r="2.65" fill="#111"/>
<rect x="546.28" y="547.55" width="5" height="1.6" fill="#111"/>
<rect x="559.7" y="547.55" width="5" height="1.6" fill="#111"/>
<rect x="573.11" y="547.55" width="5" height="1.6" fill="#111"/>
<circle cx="589.03" cy="548.35" r="2.65" fill="#111"/>
<rect x="599.95" y="547.55" width="5" height="1.6" fill="#111"/>
<rect x="613.37" y="547.55" width="5" height="1.6" fill="#111"/>
<rect x="626.78" y="547.55" width="5" height="1.6" fill="#111"/>
<rect x="640.2" y="547.55" width="5" height="1.6" fill="#111"/>
<circle cx="656.12" cy="548.35" r="2.65" fill="#111"/>
<circle cx="669.53" cy="548.35" r="2.65" fill="#111"/>
<rect x="680.45" y="547.55" width="5" height="1.6" fill="#111"/>
<circle cx="696.37" cy="548.35" r="2.65" fill="#111"/>
<rect x="707.28" y="547.55" width="5" height="1.6" fill="#111"/>
<text transform="translate(51.4,567.17) scale(0.875,1)" class="pn" text-anchor="middle">VBMT110308LF</text>
<text transform="translate(135,567.17) scale(0.88,1)" class="num" text-anchor="middle">6,35</text>
<text transform="translate(214.6,567.17) scale(0.88,1)" class="num" text-anchor="middle">11,07</text>
<text transform="translate(290.6,567.17) scale(0.88,1)" class="num" text-anchor="middle">0,8</text>
<circle cx="334.11" cy="564.17" r="2.65" fill="#111"/>
<rect x="345.03" y="563.38" width="5" height="1.6" fill="#111"/>
<circle cx="360.94" cy="564.17" r="2.65" fill="#111"/>
<circle cx="374.36" cy="564.17" r="2.65" fill="#111"/>
<circle cx="387.78" cy="564.17" r="2.65" fill="#111"/>
<rect x="398.69" y="563.38" width="5" height="1.6" fill="#111"/>
<rect x="412.11" y="563.38" width="5" height="1.6" fill="#111"/>
<rect x="425.53" y="563.38" width="5" height="1.6" fill="#111"/>
<circle cx="441.44" cy="564.17" r="2.65" fill="#111"/>
<rect x="452.36" y="563.38" width="5" height="1.6" fill="#111"/>
<rect x="465.78" y="563.38" width="5" height="1.6" fill="#111"/>
<circle cx="481.7" cy="564.17" r="2.65" fill="#111"/>
<rect x="492.61" y="563.38" width="5" height="1.6" fill="#111"/>
<rect x="506.03" y="563.38" width="5" height="1.6" fill="#111"/>
<rect x="519.45" y="563.38" width="5" height="1.6" fill="#111"/>
<rect x="532.86" y="563.38" width="5" height="1.6" fill="#111"/>
<circle cx="548.78" cy="564.17" r="2.65" fill="#111"/>
<rect x="559.7" y="563.38" width="5" height="1.6" fill="#111"/>
<rect x="573.11" y="563.38" width="5" height="1.6" fill="#111"/>
<rect x="586.53" y="563.38" width="5" height="1.6" fill="#111"/>
<rect x="599.95" y="563.38" width="5" height="1.6" fill="#111"/>
<rect x="613.37" y="563.38" width="5" height="1.6" fill="#111"/>
<rect x="626.78" y="563.38" width="5" height="1.6" fill="#111"/>
<rect x="640.2" y="563.38" width="5" height="1.6" fill="#111"/>
<circle cx="656.12" cy="564.17" r="2.65" fill="#111"/>
<circle cx="669.53" cy="564.17" r="2.65" fill="#111"/>
<rect x="680.45" y="563.38" width="5" height="1.6" fill="#111"/>
<rect x="693.87" y="563.38" width="5" height="1.6" fill="#111"/>
<rect x="707.28" y="563.38" width="5" height="1.6" fill="#111"/>
<text transform="translate(51.4,583) scale(0.875,1)" class="pn" text-anchor="middle">VBMT160402LF</text>
<text transform="translate(135,583) scale(0.88,1)" class="num" text-anchor="middle">9,53</text>
<text transform="translate(214.6,583) scale(0.88,1)" class="num" text-anchor="middle">16,61</text>
<text transform="translate(290.6,583) scale(0.88,1)" class="num" text-anchor="middle">0,2</text>
<rect x="331.61" y="579.21" width="5" height="1.6" fill="#111"/>
<rect x="345.03" y="579.21" width="5" height="1.6" fill="#111"/>
<rect x="358.44" y="579.21" width="5" height="1.6" fill="#111"/>
<rect x="371.86" y="579.21" width="5" height="1.6" fill="#111"/>
<rect x="385.28" y="579.21" width="5" height="1.6" fill="#111"/>
<rect x="398.69" y="579.21" width="5" height="1.6" fill="#111"/>
<rect x="412.11" y="579.21" width="5" height="1.6" fill="#111"/>
<rect x="425.53" y="579.21" width="5" height="1.6" fill="#111"/>
<rect x="438.94" y="579.21" width="5" height="1.6" fill="#111"/>
<rect x="452.36" y="579.21" width="5" height="1.6" fill="#111"/>
<rect x="465.78" y="579.21" width="5" height="1.6" fill="#111"/>
<rect x="479.2" y="579.21" width="5" height="1.6" fill="#111"/>
<rect x="492.61" y="579.21" width="5" height="1.6" fill="#111"/>
<rect x="506.03" y="579.21" width="5" height="1.6" fill="#111"/>
<rect x="519.45" y="579.21" width="5" height="1.6" fill="#111"/>
<rect x="532.86" y="579.21" width="5" height="1.6" fill="#111"/>
<rect x="546.28" y="579.21" width="5" height="1.6" fill="#111"/>
<rect x="559.7" y="579.21" width="5" height="1.6" fill="#111"/>
<rect x="573.11" y="579.21" width="5" height="1.6" fill="#111"/>
<circle cx="589.03" cy="580" r="2.65" fill="#111"/>
<rect x="599.95" y="579.21" width="5" height="1.6" fill="#111"/>
<rect x="613.37" y="579.21" width="5" height="1.6" fill="#111"/>
<rect x="626.78" y="579.21" width="5" height="1.6" fill="#111"/>
<rect x="640.2" y="579.21" width="5" height="1.6" fill="#111"/>
<circle cx="656.12" cy="580" r="2.65" fill="#111"/>
<circle cx="669.53" cy="580" r="2.65" fill="#111"/>
<rect x="680.45" y="579.21" width="5" height="1.6" fill="#111"/>
<circle cx="696.37" cy="580" r="2.65" fill="#111"/>
<rect x="707.28" y="579.21" width="5" height="1.6" fill="#111"/>
<text transform="translate(51.4,598.84) scale(0.875,1)" class="pn" text-anchor="middle">VBMT160404LF</text>
<text transform="translate(135,598.84) scale(0.88,1)" class="num" text-anchor="middle">9,53</text>
<text transform="translate(214.6,598.84) scale(0.88,1)" class="num" text-anchor="middle">16,61</text>
<text transform="translate(290.6,598.84) scale(0.88,1)" class="num" text-anchor="middle">0,4</text>
<rect x="331.61" y="595.04" width="5" height="1.6" fill="#111"/>
<circle cx="347.53" cy="595.84" r="2.65" fill="#111"/>
<circle cx="360.94" cy="595.84" r="2.65" fill="#111"/>
<circle cx="374.36" cy="595.84" r="2.65" fill="#111"/>
<circle cx="387.78" cy="595.84" r="2.65" fill="#111"/>
<circle cx="401.19" cy="595.84" r="2.65" fill="#111"/>
<rect x="412.11" y="595.04" width="5" height="1.6" fill="#111"/>
<rect x="425.53" y="595.04" width="5" height="1.6" fill="#111"/>
<rect x="438.94" y="595.04" width="5" height="1.6" fill="#111"/>
<circle cx="454.86" cy="595.84" r="2.65" fill="#111"/>
<circle cx="468.28" cy="595.84" r="2.65" fill="#111"/>
<circle cx="481.7" cy="595.84" r="2.65" fill="#111"/>
<rect x="492.61" y="595.04" width="5" height="1.6" fill="#111"/>
<circle cx="508.53" cy="595.84" r="2.65" fill="#111"/>
<circle cx="521.95" cy="595.84" r="2.65" fill="#111"/>
<circle cx="535.36" cy="595.84" r="2.65" fill="#111"/>
<circle cx="548.78" cy="595.84" r="2.65" fill="#111"/>
<circle cx="562.2" cy="595.84" r="2.65" fill="#111"/>
<rect x="573.11" y="595.04" width="5" height="1.6" fill="#111"/>
<circle cx="589.03" cy="595.84" r="2.65" fill="#111"/>
<rect x="599.95" y="595.04" width="5" height="1.6" fill="#111"/>
<rect x="613.37" y="595.04" width="5" height="1.6" fill="#111"/>
<rect x="626.78" y="595.04" width="5" height="1.6" fill="#111"/>
<rect x="640.2" y="595.04" width="5" height="1.6" fill="#111"/>
<circle cx="656.12" cy="595.84" r="2.65" fill="#111"/>
<circle cx="669.53" cy="595.84" r="2.65" fill="#111"/>
<rect x="680.45" y="595.04" width="5" height="1.6" fill="#111"/>
<circle cx="696.37" cy="595.84" r="2.65" fill="#111"/>
<rect x="707.28" y="595.04" width="5" height="1.6" fill="#111"/>
<text transform="translate(51.4,614.66) scale(0.875,1)" class="pn" text-anchor="middle">VBMT160408LF</text>
<text transform="translate(135,614.66) scale(0.88,1)" class="num" text-anchor="middle">9,53</text>
<text transform="translate(214.6,614.66) scale(0.88,1)" class="num" text-anchor="middle">16,61</text>
<text transform="translate(290.6,614.66) scale(0.88,1)" class="num" text-anchor="middle">0,8</text>
<circle cx="334.11" cy="611.66" r="2.65" fill="#111"/>
<circle cx="347.53" cy="611.66" r="2.65" fill="#111"/>
<circle cx="360.94" cy="611.66" r="2.65" fill="#111"/>
<circle cx="374.36" cy="611.66" r="2.65" fill="#111"/>
<circle cx="387.78" cy="611.66" r="2.65" fill="#111"/>
<circle cx="401.19" cy="611.66" r="2.65" fill="#111"/>
<rect x="412.11" y="610.87" width="5" height="1.6" fill="#111"/>
<rect x="425.53" y="610.87" width="5" height="1.6" fill="#111"/>
<circle cx="441.44" cy="611.66" r="2.65" fill="#111"/>
<circle cx="454.86" cy="611.66" r="2.65" fill="#111"/>
<circle cx="468.28" cy="611.66" r="2.65" fill="#111"/>
<rect x="479.2" y="610.87" width="5" height="1.6" fill="#111"/>
<circle cx="495.11" cy="611.66" r="2.65" fill="#111"/>
<circle cx="508.53" cy="611.66" r="2.65" fill="#111"/>
<circle cx="521.95" cy="611.66" r="2.65" fill="#111"/>
<circle cx="535.36" cy="611.66" r="2.65" fill="#111"/>
<circle cx="548.78" cy="611.66" r="2.65" fill="#111"/>
<circle cx="562.2" cy="611.66" r="2.65" fill="#111"/>
<rect x="573.11" y="610.87" width="5" height="1.6" fill="#111"/>
<circle cx="589.03" cy="611.66" r="2.65" fill="#111"/>
<rect x="599.95" y="610.87" width="5" height="1.6" fill="#111"/>
<rect x="613.37" y="610.87" width="5" height="1.6" fill="#111"/>
<rect x="626.78" y="610.87" width="5" height="1.6" fill="#111"/>
<rect x="640.2" y="610.87" width="5" height="1.6" fill="#111"/>
<circle cx="656.12" cy="611.66" r="2.65" fill="#111"/>
<circle cx="669.53" cy="611.66" r="2.65" fill="#111"/>
<rect x="680.45" y="610.87" width="5" height="1.6" fill="#111"/>
<circle cx="696.37" cy="611.66" r="2.65" fill="#111"/>
<rect x="707.28" y="610.87" width="5" height="1.6" fill="#111"/>
<text transform="translate(51.4,630.5) scale(0.875,1)" class="pn" text-anchor="middle">VBMT160412LF</text>
<text transform="translate(135,630.5) scale(0.88,1)" class="num" text-anchor="middle">9,53</text>
<text transform="translate(214.6,630.5) scale(0.88,1)" class="num" text-anchor="middle">16,61</text>
<text transform="translate(290.6,630.5) scale(0.88,1)" class="num" text-anchor="middle">1,2</text>
<rect x="331.61" y="626.7" width="5" height="1.6" fill="#111"/>
<rect x="345.03" y="626.7" width="5" height="1.6" fill="#111"/>
<rect x="358.44" y="626.7" width="5" height="1.6" fill="#111"/>
<rect x="371.86" y="626.7" width="5" height="1.6" fill="#111"/>
<circle cx="387.78" cy="627.5" r="2.65" fill="#111"/>
<rect x="398.69" y="626.7" width="5" height="1.6" fill="#111"/>
<rect x="412.11" y="626.7" width="5" height="1.6" fill="#111"/>
<rect x="425.53" y="626.7" width="5" height="1.6" fill="#111"/>
<circle cx="441.44" cy="627.5" r="2.65" fill="#111"/>
<rect x="452.36" y="626.7" width="5" height="1.6" fill="#111"/>
<rect x="465.78" y="626.7" width="5" height="1.6" fill="#111"/>
<circle cx="481.7" cy="627.5" r="2.65" fill="#111"/>
<circle cx="495.11" cy="627.5" r="2.65" fill="#111"/>
<rect x="506.03" y="626.7" width="5" height="1.6" fill="#111"/>
<rect x="519.45" y="626.7" width="5" height="1.6" fill="#111"/>
<rect x="532.86" y="626.7" width="5" height="1.6" fill="#111"/>
<rect x="546.28" y="626.7" width="5" height="1.6" fill="#111"/>
<rect x="559.7" y="626.7" width="5" height="1.6" fill="#111"/>
<rect x="573.11" y="626.7" width="5" height="1.6" fill="#111"/>
<rect x="586.53" y="626.7" width="5" height="1.6" fill="#111"/>
<rect x="599.95" y="626.7" width="5" height="1.6" fill="#111"/>
<rect x="613.37" y="626.7" width="5" height="1.6" fill="#111"/>
<rect x="626.78" y="626.7" width="5" height="1.6" fill="#111"/>
<rect x="640.2" y="626.7" width="5" height="1.6" fill="#111"/>
<rect x="653.62" y="626.7" width="5" height="1.6" fill="#111"/>
<rect x="667.03" y="626.7" width="5" height="1.6" fill="#111"/>
<rect x="680.45" y="626.7" width="5" height="1.6" fill="#111"/>
<rect x="693.87" y="626.7" width="5" height="1.6" fill="#111"/>
<rect x="707.28" y="626.7" width="5" height="1.6" fill="#111"/>
<line x1="8.2" y1="853.1" x2="716.49" y2="853.1" stroke="#f2d465" stroke-width="1.2"/>
<line x1="8.2" y1="821.2" x2="716.49" y2="821.2" stroke="#6b6b6b" stroke-width="1.5"/>
<line x1="94.6" y1="760" x2="94.6" y2="853.1" stroke="#444" stroke-width="1.3"/>
<text x="51.5" y="818.6" class="cjk" text-anchor="middle">目录编号</text>
<text transform="translate(135,818.5) scale(0.88,1)" class="hb" text-anchor="middle">D</text>
<text transform="translate(214.6,818.5) scale(0.88,1)" class="hb" text-anchor="middle">L10</text>
<text transform="translate(290.8,818.5) scale(0.88,1)" class="hb" text-anchor="middle">Rε</text>
<text transform="translate(338.01,816) rotate(-90) scale(0.89,1)" class="rl">KCP05</text>
<text transform="translate(351.43,816) rotate(-90) scale(0.89,1)" class="rl">KCP10B</text>
<text transform="translate(364.84,816) rotate(-90) scale(0.89,1)" class="rl">KCP10</text>
<text transform="translate(378.26,816) rotate(-90) scale(0.89,1)" class="rl">KCP25B</text>
<text transform="translate(391.68,816) rotate(-90) scale(0.89,1)" class="rl">KCP25</text>
<text transform="translate(405.09,816) rotate(-90) scale(0.89,1)" class="rl">KCP30</text>
<text transform="translate(418.51,816) rotate(-90) scale(0.89,1)" class="rl">KCP40</text>
<text transform="translate(431.93,816) rotate(-90) scale(0.89,1)" class="rl">KCK05B</text>
<text transform="translate(445.34,816) rotate(-90) scale(0.89,1)" class="rl">KCK05</text>
<text transform="translate(458.76,816) rotate(-90) scale(0.89,1)" class="rl">KCK15B</text>
<text transform="translate(472.18,816) rotate(-90) scale(0.89,1)" class="rl">KCK15</text>
<text transform="translate(485.6,816) rotate(-90) scale(0.89,1)" class="rl">KCK20B</text>
<text transform="translate(499.01,816) rotate(-90) scale(0.89,1)" class="rl">KCK20</text>
<text transform="translate(512.43,816) rotate(-90) scale(0.89,1)" class="rl">KCM15B</text>
<text transform="translate(525.85,816) rotate(-90) scale(0.89,1)" class="rl">KCM15</text>
<text transform="translate(539.26,816) rotate(-90) scale(0.89,1)" class="rl">KCM25B</text>
<text transform="translate(552.68,816) rotate(-90) scale(0.89,1)" class="rl">KCM25</text>
<text transform="translate(566.1,816) rotate(-90) scale(0.89,1)" class="rl">KCM35</text>
<text transform="translate(579.51,816) rotate(-90) scale(0.89,1)" class="rl">KU10</text>
<text transform="translate(592.93,816) rotate(-90) scale(0.89,1)" class="rl">K313</text>
<text transform="translate(606.35,816) rotate(-90) scale(0.89,1)" class="rl">K68</text>
<text transform="translate(619.77,816) rotate(-90) scale(0.89,1)" class="rl">KCS10</text>
<text transform="translate(633.18,816) rotate(-90) scale(0.89,1)" class="rl">KCU10</text>
<text transform="translate(646.6,816) rotate(-90) scale(0.89,1)" class="rl">KCU25</text>
<text transform="translate(660.02,816) rotate(-90) scale(0.89,1)" class="rl">KC5010</text>
<text transform="translate(673.43,816) rotate(-90) scale(0.89,1)" class="rl">KC5025</text>
<text transform="translate(686.85,816) rotate(-90) scale(0.89,1)" class="rl">KC5410</text>
<text transform="translate(700.27,816) rotate(-90) scale(0.89,1)" class="rl">KT315</text>
<text transform="translate(713.68,816) rotate(-90) scale(0.89,1)" class="rl">KTP10</text>
<text transform="translate(51.4,833.28) scale(0.875,1)" class="pn" text-anchor="middle">VBMT160404MP</text>
<text transform="translate(135,833.28) scale(0.88,1)" class="num" text-anchor="middle">9,53</text>
<text transform="translate(214.6,833.28) scale(0.88,1)" class="num" text-anchor="middle">16,61</text>
<text transform="translate(290.6,833.28) scale(0.88,1)" class="num" text-anchor="middle">0,4</text>
<rect x="331.61" y="829.48" width="5" height="1.6" fill="#111"/>
<rect x="345.03" y="829.48" width="5" height="1.6" fill="#111"/>
<rect x="358.44" y="829.48" width="5" height="1.6" fill="#111"/>
<circle cx="374.36" cy="830.28" r="2.65" fill="#111"/>
<circle cx="387.78" cy="830.28" r="2.65" fill="#111"/>
<rect x="398.69" y="829.48" width="5" height="1.6" fill="#111"/>
<rect x="412.11" y="829.48" width="5" height="1.6" fill="#111"/>
<rect x="425.53" y="829.48" width="5" height="1.6" fill="#111"/>
<rect x="438.94" y="829.48" width="5" height="1.6" fill="#111"/>
<rect x="452.36" y="829.48" width="5" height="1.6" fill="#111"/>
<rect x="465.78" y="829.48" width="5" height="1.6" fill="#111"/>
<rect x="479.2" y="829.48" width="5" height="1.6" fill="#111"/>
<rect x="492.61" y="829.48" width="5" height="1.6" fill="#111"/>
<rect x="506.03" y="829.48" width="5" height="1.6" fill="#111"/>
<rect x="519.45" y="829.48" width="5" height="1.6" fill="#111"/>
<circle cx="535.36" cy="830.28" r="2.65" fill="#111"/>
<circle cx="548.78" cy="830.28" r="2.65" fill="#111"/>
<rect x="559.7" y="829.48" width="5" height="1.6" fill="#111"/>
<rect x="573.11" y="829.48" width="5" height="1.6" fill="#111"/>
<rect x="586.53" y="829.48" width="5" height="1.6" fill="#111"/>
<rect x="599.95" y="829.48" width="5" height="1.6" fill="#111"/>
<rect x="613.37" y="829.48" width="5" height="1.6" fill="#111"/>
<rect x="626.78" y="829.48" width="5" height="1.6" fill="#111"/>
<rect x="640.2" y="829.48" width="5" height="1.6" fill="#111"/>
<rect x="653.62" y="829.48" width="5" height="1.6" fill="#111"/>
<rect x="667.03" y="829.48" width="5" height="1.6" fill="#111"/>
<rect x="680.45" y="829.48" width="5" height="1.6" fill="#111"/>
<rect x="693.87" y="829.48" width="5" height="1.6" fill="#111"/>
<rect x="707.28" y="829.48" width="5" height="1.6" fill="#111"/>
<text transform="translate(51.4,849.23) scale(0.875,1)" class="pn" text-anchor="middle">VBMT160408MP</text>
<text transform="translate(135,849.23) scale(0.88,1)" class="num" text-anchor="middle">9,53</text>
<text transform="translate(214.6,849.23) scale(0.88,1)" class="num" text-anchor="middle">16,61</text>
<text transform="translate(290.6,849.23) scale(0.88,1)" class="num" text-anchor="middle">0,8</text>
<rect x="331.61" y="845.43" width="5" height="1.6" fill="#111"/>
<rect x="345.03" y="845.43" width="5" height="1.6" fill="#111"/>
<rect x="358.44" y="845.43" width="5" height="1.6" fill="#111"/>
<circle cx="374.36" cy="846.23" r="2.65" fill="#111"/>
<circle cx="387.78" cy="846.23" r="2.65" fill="#111"/>
<rect x="398.69" y="845.43" width="5" height="1.6" fill="#111"/>
<rect x="412.11" y="845.43" width="5" height="1.6" fill="#111"/>
<rect x="425.53" y="845.43" width="5" height="1.6" fill="#111"/>
<rect x="438.94" y="845.43" width="5" height="1.6" fill="#111"/>
<rect x="452.36" y="845.43" width="5" height="1.6" fill="#111"/>
<rect x="465.78" y="845.43" width="5" height="1.6" fill="#111"/>
<circle cx="481.7" cy="846.23" r="2.65" fill="#111"/>
<circle cx="495.11" cy="846.23" r="2.65" fill="#111"/>
<rect x="506.03" y="845.43" width="5" height="1.6" fill="#111"/>
<rect x="519.45" y="845.43" width="5" height="1.6" fill="#111"/>
<circle cx="535.36" cy="846.23" r="2.65" fill="#111"/>
<circle cx="548.78" cy="846.23" r="2.65" fill="#111"/>
<rect x="559.7" y="845.43" width="5" height="1.6" fill="#111"/>
<rect x="573.11" y="845.43" width="5" height="1.6" fill="#111"/>
<rect x="586.53" y="845.43" width="5" height="1.6" fill="#111"/>
<rect x="599.95" y="845.43" width="5" height="1.6" fill="#111"/>
<rect x="613.37" y="845.43" width="5" height="1.6" fill="#111"/>
<rect x="626.78" y="845.43" width="5" height="1.6" fill="#111"/>
<rect x="640.2" y="845.43" width="5" height="1.6" fill="#111"/>
<rect x="653.62" y="845.43" width="5" height="1.6" fill="#111"/>
<rect x="667.03" y="845.43" width="5" height="1.6" fill="#111"/>
<rect x="680.45" y="845.43" width="5" height="1.6" fill="#111"/>
<rect x="693.87" y="845.43" width="5" height="1.6" fill="#111"/>
<rect x="707.28" y="845.43" width="5" height="1.6" fill="#111"/>
<polygon points="7.8,101.9 42.3,103.9 42.3,110.4 8.6,110.4" fill="#d2d2d2" stroke="#111" stroke-width="1.3" stroke-linejoin="round"/><polygon points="42.3,103.9 68.9,87.6 68.7,96.4 42.3,110.4" fill="#d9d9d9" stroke="#111" stroke-width="1.3" stroke-linejoin="round"/><polygon points="7.8,101.9 34.6,87.3 68.9,87.6 42.3,103.9" fill="#151515" stroke="#111" stroke-width="1.3" stroke-linejoin="round"/><polygon points="13.5,101.3 35.8,89.9 64,90.1 41.5,101.5" fill="#bcbcbc"/><path d="M20,100.4 L28,94.3 M45,100.4 Q52,93.3 61,90.8" stroke="#1a1a1a" stroke-width="2.2" fill="none"/><path d="M47,99.1 Q53,94.8 58,92.5" stroke="#e8e8e8" stroke-width="0.7" stroke-dasharray="1.2,1" fill="none"/><path d="M14,101.3 L41.5,101.5" stroke="#151515" stroke-width="2.2"/><rect x="22" y="100.5" width="8.5" height="1.4" rx="0.7" fill="#e0e0e0"/><rect x="17" y="101.1" width="3" height="1" fill="#cfcfcf"/><ellipse cx="37.6" cy="95.9" rx="6.6" ry="5.6" fill="#1a1a1a"/><ellipse cx="37.3" cy="94.7" rx="4.6" ry="3.3" fill="#d4d4d4"/><ellipse cx="38.8" cy="98.8" rx="2.6" ry="1.6" fill="#6a6a6a"/>
<g transform="translate(0,0)" fill="none" stroke="#222" stroke-width="1"><path d="M137.7,124.8 L170.5,101.2 Q171.5,100.5 173,100.5 L221.5,100.5"/><path d="M137.7,124.8 L178.5,124.8 Q179.5,124.8 180.5,124 L221,96.6"/><circle cx="175.6" cy="112.6" r="12.2"/><circle cx="175.6" cy="112.6" r="7.5" stroke-width="2.3" stroke="#3a3a3a" stroke-dasharray="1.2,0.5"/><circle cx="175.6" cy="112.6" r="8.6" stroke-width="0.8"/><circle cx="175.6" cy="112.6" r="6.3" stroke-width="0.8"/><path d="M175.6,104.5 L175.6,121 M167.5,112.6 L183.5,112.6" stroke-width="0.7"/><path d="M153.7,101.8 L163.5,115.6 M173.1,88.3 L183.8,103.6"/><path d="M154.6,101.6 L172.4,89.6" stroke-width="0.9"/><path d="M154.6,101.6 l3.3,-1 l-1.2,2.1 z M172.4,89.6 l-3.3,1 l1.2,-2.1 z" fill="#222" stroke-width="0.5"/><path d="M137.9,127.5 L137.9,138.3 M179.2,124.8 L179.2,138.3"/><path d="M138.4,137 L178.7,137" stroke-width="0.9"/><path d="M138.4,137 l3.5,-1.1 l0,2.2 z M178.7,137 l-3.5,-1.1 l0,2.2 z" fill="#222" stroke-width="0.5"/><path d="M120.2,137.2 L133.4,137.2 L138.9,126.3" stroke-width="1"/><circle cx="138" cy="125.3" r="1" stroke-width="0.8"/><path d="M210.4,93.3 Q223,95 215.6,108.4" stroke-width="1.1"/><path d="M217.9,97.6 L214.16,95.14 L215.44,93.86 Z M218.3,100.2 L218.49,104.64 L216.71,104.36 Z" fill="#222" stroke-width="0.4"/><path d="M227.47,119.63 Q226.2,123.8 227.03,128.03" stroke-width="1.9"/><path d="M234.8,101.3 L246.9,100.5 L246.9,125.3 L234.8,124.3 Z"/><path d="M234.8,106.6 L246.9,106.6 M234.8,118.7 L246.9,118.7"/><path d="M232.5,112.6 L248.6,112.6" stroke-dasharray="2.5,1.2" stroke-width="0.8"/><path d="M225.3,124.3 L246.9,124.6" stroke-width="1.5"/><path d="M229.8,113.2 Q224.5,124 228.7,134.2" stroke-width="1.1"/></g><g transform="translate(0,0)" class="dt"><text x="158.3" y="93.6">D</text><text x="152" y="135">L10</text><text x="120.3" y="135.3">R<tspan font-size="7.4" dy="0.4">ε</tspan></text><text x="222.2" y="100">35°</text><text x="218" y="125.5">5°</text></g>
<rect x="9.4" y="148.1" width="8.2" height="8.6" fill="#fdd100"/>
<text x="21.2" y="157.6" class="title">VBMT-FP</text>
<polygon points="7.8,394.4 42.3,396.3 42.3,405 8.6,405" fill="#d2d2d2" stroke="#111" stroke-width="1.3" stroke-linejoin="round"/><polygon points="42.3,396.3 68.9,381.6 68.7,391.5 42.3,405" fill="#d9d9d9" stroke="#111" stroke-width="1.3" stroke-linejoin="round"/><polygon points="7.8,394.4 34.6,381.3 68.9,381.6 42.3,396.3" fill="#bdbdbd" stroke="#111" stroke-width="1.7" stroke-linejoin="round"/><polyline points="10.5,394.4 35.5,382.9 66,383.1" fill="none" stroke="#555" stroke-width="0.7"/><polyline points="10,395 41.5,394.9 66.5,383.7" fill="none" stroke="#444" stroke-width="0.8"/><ellipse cx="38.3" cy="389.6" rx="6.3" ry="4.5" fill="#d4d4d4" stroke="#111" stroke-width="1.3"/><ellipse cx="38.6" cy="390.9" rx="3.8" ry="2.2" fill="#f2f2f2"/>
<g transform="translate(0,292.8)" fill="none" stroke="#222" stroke-width="1"><path d="M137.7,124.8 L170.5,101.2 Q171.5,100.5 173,100.5 L221.5,100.5"/><path d="M137.7,124.8 L178.5,124.8 Q179.5,124.8 180.5,124 L221,96.6"/><circle cx="175.6" cy="112.6" r="12.2"/><circle cx="175.6" cy="112.6" r="7.5" stroke-width="2.3" stroke="#3a3a3a" stroke-dasharray="1.2,0.5"/><circle cx="175.6" cy="112.6" r="8.6" stroke-width="0.8"/><circle cx="175.6" cy="112.6" r="6.3" stroke-width="0.8"/><path d="M175.6,104.5 L175.6,121 M167.5,112.6 L183.5,112.6" stroke-width="0.7"/><path d="M153.7,101.8 L163.5,115.6 M173.1,88.3 L183.8,103.6"/><path d="M154.6,101.6 L172.4,89.6" stroke-width="0.9"/><path d="M154.6,101.6 l3.3,-1 l-1.2,2.1 z M172.4,89.6 l-3.3,1 l1.2,-2.1 z" fill="#222" stroke-width="0.5"/><path d="M137.9,127.5 L137.9,138.3 M179.2,124.8 L179.2,138.3"/><path d="M138.4,137 L178.7,137" stroke-width="0.9"/><path d="M138.4,137 l3.5,-1.1 l0,2.2 z M178.7,137 l-3.5,-1.1 l0,2.2 z" fill="#222" stroke-width="0.5"/><path d="M120.2,137.2 L133.4,137.2 L138.9,126.3" stroke-width="1"/><circle cx="138" cy="125.3" r="1" stroke-width="0.8"/><path d="M210.4,93.3 Q223,95 215.6,108.4" stroke-width="1.1"/><path d="M217.9,97.6 L214.16,95.14 L215.44,93.86 Z M218.3,100.2 L218.49,104.64 L216.71,104.36 Z" fill="#222" stroke-width="0.4"/><path d="M227.47,119.63 Q226.2,123.8 227.03,128.03" stroke-width="1.9"/><path d="M234.8,101.3 L246.9,100.5 L246.9,125.3 L234.8,124.3 Z"/><path d="M234.8,106.6 L246.9,106.6 M234.8,118.7 L246.9,118.7"/><path d="M232.5,112.6 L248.6,112.6" stroke-dasharray="2.5,1.2" stroke-width="0.8"/><path d="M225.3,124.3 L246.9,124.6" stroke-width="1.5"/><path d="M229.8,113.2 Q224.5,124 228.7,134.2" stroke-width="1.1"/></g><g transform="translate(0,292.8)" class="dt"><text x="158.3" y="93.6">D</text><text x="152" y="135">L10</text><text x="120.3" y="135.3">R<tspan font-size="7.4" dy="0.4">ε</tspan></text><text x="222.2" y="100">35°</text><text x="218" y="125.5">5°</text></g>
<rect x="9.4" y="439.6" width="8.2" height="8.6" fill="#fdd100"/>
<text x="21.2" y="449.1" class="title">VBMT-LF</text>
<polygon points="7.8,693.4 42.3,695.3 42.3,702.6 8.6,702.6" fill="#d2d2d2" stroke="#111" stroke-width="1.3" stroke-linejoin="round"/><polygon points="42.3,695.3 68.9,679.7 68.7,687.6 42.3,702.6" fill="#d9d9d9" stroke="#111" stroke-width="1.3" stroke-linejoin="round"/><polygon points="7.8,693.4 34.6,679.4 68.9,679.7 42.3,695.3" fill="#151515" stroke="#111" stroke-width="1.3" stroke-linejoin="round"/><polygon points="13.5,692.8 35.8,682 64,682.2 41.5,692.9" fill="#bcbcbc"/><path d="M14,692.8 L41.5,692.9" stroke="#151515" stroke-width="2"/><rect x="37.5" y="680.8" width="14" height="1.5" rx="0.7" fill="#d8d8d8"/><path d="M23.5,688.4 L30,684.4" stroke="#d8d8d8" stroke-width="1.5" stroke-linecap="round"/><path d="M22,691.9 L42,692.3" stroke="#222" stroke-width="1.1"/><path d="M27,690.3 L34,683.4 M50,683.9 L44,690.3" stroke="#222" stroke-width="1.4"/><ellipse cx="38.4" cy="689.4" rx="6.2" ry="5.1" fill="#1a1a1a"/><ellipse cx="38.2" cy="688.6" rx="4.4" ry="3.4" fill="#cfcfcf"/><ellipse cx="38.8" cy="690.7" rx="2.6" ry="1.4" fill="#888"/><circle cx="13" cy="691.4" r="0.5" fill="#ccc"/><circle cx="18" cy="689.9" r="0.5" fill="#ccc"/><circle cx="59" cy="681.4" r="0.5" fill="#ccc"/><circle cx="63" cy="681.6" r="0.5" fill="#ccc"/><circle cx="55" cy="681.4" r="0.5" fill="#ccc"/>
<g transform="translate(0,592)" fill="none" stroke="#222" stroke-width="1"><path d="M137.7,124.8 L170.5,101.2 Q171.5,100.5 173,100.5 L221.5,100.5"/><path d="M137.7,124.8 L178.5,124.8 Q179.5,124.8 180.5,124 L221,96.6"/><circle cx="175.6" cy="112.6" r="12.2"/><circle cx="175.6" cy="112.6" r="7.5" stroke-width="2.3" stroke="#3a3a3a" stroke-dasharray="1.2,0.5"/><circle cx="175.6" cy="112.6" r="8.6" stroke-width="0.8"/><circle cx="175.6" cy="112.6" r="6.3" stroke-width="0.8"/><path d="M175.6,104.5 L175.6,121 M167.5,112.6 L183.5,112.6" stroke-width="0.7"/><path d="M153.7,101.8 L163.5,115.6 M173.1,88.3 L183.8,103.6"/><path d="M154.6,101.6 L172.4,89.6" stroke-width="0.9"/><path d="M154.6,101.6 l3.3,-1 l-1.2,2.1 z M172.4,89.6 l-3.3,1 l1.2,-2.1 z" fill="#222" stroke-width="0.5"/><path d="M137.9,127.5 L137.9,138.3 M179.2,124.8 L179.2,138.3"/><path d="M138.4,137 L178.7,137" stroke-width="0.9"/><path d="M138.4,137 l3.5,-1.1 l0,2.2 z M178.7,137 l-3.5,-1.1 l0,2.2 z" fill="#222" stroke-width="0.5"/><path d="M120.2,137.2 L133.4,137.2 L138.9,126.3" stroke-width="1"/><circle cx="138" cy="125.3" r="1" stroke-width="0.8"/><path d="M210.4,93.3 Q223,95 215.6,108.4" stroke-width="1.1"/><path d="M217.9,97.6 L214.16,95.14 L215.44,93.86 Z M218.3,100.2 L218.49,104.64 L216.71,104.36 Z" fill="#222" stroke-width="0.4"/><path d="M227.47,119.63 Q226.2,123.8 227.03,128.03" stroke-width="1.9"/><path d="M234.8,101.3 L246.9,100.5 L246.9,125.3 L234.8,124.3 Z"/><path d="M234.8,106.6 L246.9,106.6 M234.8,118.7 L246.9,118.7"/><path d="M232.5,112.6 L248.6,112.6" stroke-dasharray="2.5,1.2" stroke-width="0.8"/><path d="M225.3,124.3 L246.9,124.6" stroke-width="1.5"/><path d="M229.8,113.2 Q224.5,124 228.7,134.2" stroke-width="1.1"/></g><g transform="translate(0,592)" class="dt"><text x="158.3" y="93.6">D</text><text x="152" y="135">L10</text><text x="120.3" y="135.3">R<tspan font-size="7.4" dy="0.4">ε</tspan></text><text x="222.2" y="100">35°</text><text x="218" y="125.5">5°</text></g>
<rect x="9.4" y="739.6" width="8.2" height="8.6" fill="#fdd100"/>
<text x="21.2" y="749.1" class="title">VBMT-MP</text>
<polygon points="718.6,19.4 723,15.5 723,23.3" fill="#f7c600"/>
</svg>
</body></html>
